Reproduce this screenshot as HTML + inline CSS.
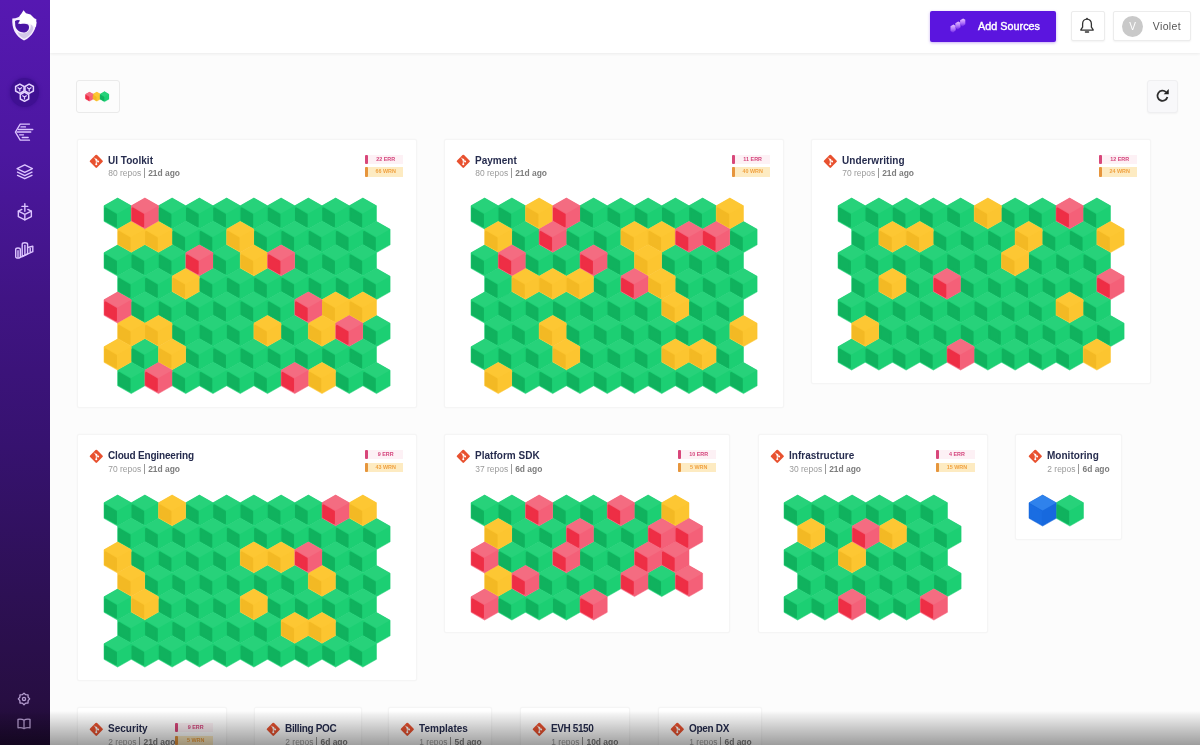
<!DOCTYPE html>
<html lang="en">
<head>
<meta charset="utf-8">
<title>Sources</title>
<style>
*{box-sizing:border-box;margin:0;padding:0}
html,body{width:1200px;height:745px;overflow:hidden;background:#fcfcfc;font-family:"Liberation Sans",sans-serif}
#app{position:relative;width:1200px;height:745px;overflow:hidden;background:#fcfcfc}
#side{position:absolute;left:0;top:0;width:50px;height:745px;background:linear-gradient(180deg,#5618b2 0%,#4c17a0 20%,#401484 40%,#36126f 60%,#2d1054 80%,#270e42 94%,#200b34 100%)}
#side svg{position:absolute;overflow:visible}
#side .act{position:absolute;left:10.300px;top:77.700px;width:29px;height:29px;border-radius:50%;background:#3f1092;box-shadow:0 0 3px 1px rgba(63,16,146,.6)}
#top{position:absolute;left:50px;top:0;width:1150px;height:53px;background:#fff;box-shadow:0 1px 3px rgba(0,0,0,.07)}
.btn{position:absolute;top:11px;height:30px;background:#fff;border:1px solid #ececec;border-radius:2px;box-shadow:0 1px 2px rgba(0,0,0,.05)}
#add{position:absolute;left:930px;top:10.5px;width:126px;height:31px;background:#5b15df;border-radius:2px;box-shadow:0 1px 3px rgba(91,21,223,.35);color:#fff;font-size:10.800px;line-height:31px;-webkit-text-stroke:.4px #fff}
#add span{position:absolute;left:48px;top:.2px;white-space:nowrap;letter-spacing:.02px}
#add svg{position:absolute;left:19px;top:6.500px}
#bell{left:1071px;width:34px}
#bell svg{position:absolute;left:7.400px;top:5.200px}
#user{left:1113px;width:78px}
#user .av{position:absolute;left:8.200px;top:3.500px;width:21px;height:21px;border-radius:50%;background:#c9c9c9;color:#fff;font-size:10px;line-height:21px;text-align:center}
#user .nm{position:absolute;left:38.800px;top:-.3px;line-height:28px;font-size:10.500px;color:#555;white-space:nowrap;letter-spacing:.35px}
.tb{position:absolute;top:80.5px;height:32px;border:1px solid #eaeaea;border-radius:3px;background:#fcfcfc}
#leg{left:75.800px;width:43.800px;top:80.400px;height:32.300px}
#leg svg{position:absolute;left:3.700px;top:8.500px}
#ref{left:1147px;width:31.300px;top:80.200px;height:32.500px;background:#f8f8fa;border-color:#efeff1;box-shadow:0 1px 2px rgba(0,0,0,.04)}
#ref svg{position:absolute;left:7.200px;top:6.600px}
.card{position:absolute;background:#fff;border:1px solid #f5f5f5;border-radius:2px;box-shadow:0 0 2px rgba(0,0,0,.03)}
.card .git{position:absolute;left:10.900px;top:13.600px}
.card .title{position:absolute;left:30px;top:13.500px;font-size:10px;line-height:13px;font-weight:bold;color:#262c4e;letter-spacing:.02px;white-space:nowrap}
.card .sub{position:absolute;left:30.300px;top:28.400px;font-size:8.450px;line-height:11px;color:#9b9b9b;white-space:nowrap}
.card .sub b{color:#7d7d7d;font-weight:bold}
.card .sub .bar{display:inline-block;width:1px;height:10px;background:#999;margin:0 3px 0 3px;vertical-align:-2px}
.bdg{position:absolute;right:12.600px;width:38.500px;height:9.600px;font-size:5.400px;line-height:9.600px;font-weight:bold;text-align:center;padding-left:3px;white-space:nowrap}
.bdg:before{content:"";position:absolute;left:0;top:0;width:2.800px;height:100%;border-radius:1px}
.bdg.err{top:14.600px;background:#fdf1f5;color:#d4457c}
.bdg.err:before{background:#d8477a}
.bdg.wrn{top:27.300px;background:#fdebc2;color:#f0a13f}
.bdg.wrn:before{background:#e6953c}
.grid{position:absolute;overflow:visible}
.card.m .git{margin-left:1px}.card.m .title,.card.m .sub{margin-left:1px}
#fade{position:absolute;left:0;top:711px;width:1200px;height:34px;background:linear-gradient(180deg,rgba(0,0,0,0) 0%,rgba(0,0,0,.05) 10%,rgba(0,0,0,.2) 50%,rgba(0,0,0,.375) 100%);pointer-events:none}
</style>
</head>
<body>
<div id="app">
<div id="top">
</div>
<div id="add"><svg width="20" height="18" viewBox="0 0 20 18"><defs><linearGradient id="sg" x1="0" y1="0" x2="0" y2="1"><stop offset="0" stop-color="#e9c3ff"/><stop offset=".55" stop-color="#b074fb"/><stop offset="1" stop-color="#6c22e6"/></linearGradient></defs><g fill="url(#sg)"><path d="M1.500 9.300l3-1.700 2.200 1.300v4.400l-2.700 2.500-2.500-1.800z"/><path d="M6.300 6.200l3-1.700 2.200 1.300v4.400l-2.700 2.300-2.500-1.800z"/><path d="M11.100 3.200l3-1.700 2.200 1.300v4.400l-2.700 2.300-2.500-1.800z"/></g></svg><span>Add Sources</span></div>
<div id="bell" class="btn"><svg width="16" height="18" viewBox="0 0 16 18"><path d="M8 2.200c-2.700 0-4.400 2-4.400 4.700v3.300l-1.700 2.400v.6h12.200v-.6l-1.700-2.400V6.900c0-2.700-1.700-4.700-4.400-4.700z" fill="none" stroke="#333" stroke-width="1.300" stroke-linejoin="round"/><path d="M6.400 15h3.200" stroke="#333" stroke-width="1.300" stroke-linecap="round"/><circle cx="8" cy="1.700" r=".9" fill="#333"/></svg></div>
<div id="user" class="btn"><div class="av">V</div><div class="nm">Violet</div></div>

<div id="leg" class="tb"><svg width="30" height="14" viewBox="0 0 30 14"><path d="M16.79 2l4.09 2.33v4.67l-4.09 2.33l-4.09 -2.33v-4.67z" fill="#fcc530" stroke="#fcc530" stroke-width="0.2"/><path d="M9.49 2l4.09 2.33v4.67l-4.09 2.33l-4.09 -2.33v-4.67z" fill="#f46078" stroke="#f46078" stroke-width="0.2"/><path d="M16.79 2l4.09 2.33l-4.09 2.33l-4.09 -2.33z" fill="#fdc733"/><path d="M13.07 5.13l3.2 1.83v3.49l-3.2 -1.83z" fill="#f3b924" stroke="#f3b924" stroke-width="0.6" stroke-linejoin="round"/><path d="M9.49 2l4.09 2.33l-4.09 2.33l-4.09 -2.33z" fill="#f46c81"/><path d="M5.78 5.13l3.2 1.83v3.49l-3.2 -1.83z" fill="#ee2e45" stroke="#ee2e45" stroke-width="0.6" stroke-linejoin="round"/><path d="M24.5 1.6l4.5 2.57v5.13l-4.5 2.57l-4.5 -2.57v-5.13z" fill="#1ccf73" stroke="#1ccf73" stroke-width="0.2"/><path d="M24.5 1.6l4.5 2.57l-4.5 2.57l-4.5 -2.57z" fill="#27d27a"/><path d="M20.41 5.05l3.52 2.01v3.84l-3.52 -2.01z" fill="#10b25e" stroke="#10b25e" stroke-width="0.66" stroke-linejoin="round"/></svg></div>
<div id="ref" class="tb"><svg width="15.400" height="15.400" viewBox="0 0 14 14"><path d="M11.300 8.200a4.600 4.600 0 1 1-1.300-4.500" fill="none" stroke="#2e2e2e" stroke-width="1.600"/><path d="M7.900 5.600h4.600v-4.600z" fill="#222"/></svg></div>

<div class="card" style="left:77px;top:139px;width:340px;height:268.6px"><svg class="git" viewBox="0 0 16 16" width="14.6" height="14.6"><rect x="2.6" y="2.6" width="10.8" height="10.8" rx="1.2" transform="rotate(45 8 8)" fill="#e8512f"/><path d="M6.1 4.4 L9.9 8.2 M8 6.3 V11.4" stroke="#fff" stroke-width="1" fill="none" stroke-linecap="round"/><circle cx="8" cy="6.2" r="1.1" fill="#fff"/><circle cx="10" cy="8.3" r="1.1" fill="#fff"/><circle cx="8" cy="11.3" r="1.1" fill="#fff"/></svg><div class="title">UI Toolkit</div><div class="sub"><span class="rp">80 repos</span><span class="bar"></span><b>21d ago</b></div><div class="bdg err"><span>22 ERR</span></div><div class="bdg wrn"><span>66 WRN</span></div><svg class="grid" style="left:24.5px;top:57.4px" width="288.12" height="197.6" viewBox="-1 -1 288.12 197.6"><path d="M13.62 0l13.62 7.78v15.55l-13.62 7.78l-13.62 -7.78v-15.55zM68.12 0l13.62 7.78v15.55l-13.62 7.78l-13.62 -7.78v-15.55zM95.38 0l13.62 7.78v15.55l-13.62 7.78l-13.62 -7.78v-15.55zM122.62 0l13.62 7.78v15.55l-13.62 7.78l-13.62 -7.78v-15.55zM149.88 0l13.62 7.78v15.55l-13.62 7.78l-13.62 -7.78v-15.55zM177.12 0l13.62 7.78v15.55l-13.62 7.78l-13.62 -7.78v-15.55zM204.38 0l13.62 7.78v15.55l-13.62 7.78l-13.62 -7.78v-15.55zM231.62 0l13.62 7.78v15.55l-13.62 7.78l-13.62 -7.78v-15.55zM258.88 0l13.62 7.78v15.55l-13.62 7.78l-13.62 -7.78v-15.55zM81.75 23.5l13.62 7.78v15.55l-13.62 7.78l-13.62 -7.78v-15.55zM109 23.5l13.62 7.78v15.55l-13.62 7.78l-13.62 -7.78v-15.55zM163.5 23.5l13.62 7.78v15.55l-13.62 7.78l-13.62 -7.78v-15.55zM190.75 23.5l13.62 7.78v15.55l-13.62 7.78l-13.62 -7.78v-15.55zM218 23.5l13.62 7.78v15.55l-13.62 7.78l-13.62 -7.78v-15.55zM245.25 23.5l13.62 7.78v15.55l-13.62 7.78l-13.62 -7.78v-15.55zM272.5 23.5l13.62 7.78v15.55l-13.62 7.78l-13.62 -7.78v-15.55zM13.62 47l13.62 7.78v15.55l-13.62 7.78l-13.62 -7.78v-15.55zM40.88 47l13.62 7.78v15.55l-13.62 7.78l-13.62 -7.78v-15.55zM68.12 47l13.62 7.78v15.55l-13.62 7.78l-13.62 -7.78v-15.55zM122.62 47l13.62 7.78v15.55l-13.62 7.78l-13.62 -7.78v-15.55zM204.38 47l13.62 7.78v15.55l-13.62 7.78l-13.62 -7.78v-15.55zM231.62 47l13.62 7.78v15.55l-13.62 7.78l-13.62 -7.78v-15.55zM258.88 47l13.62 7.78v15.55l-13.62 7.78l-13.62 -7.78v-15.55zM27.25 70.5l13.62 7.78v15.55l-13.62 7.78l-13.62 -7.78v-15.55zM54.5 70.5l13.62 7.78v15.55l-13.62 7.78l-13.62 -7.78v-15.55zM109 70.5l13.62 7.78v15.55l-13.62 7.78l-13.62 -7.78v-15.55zM136.25 70.5l13.62 7.78v15.55l-13.62 7.78l-13.62 -7.78v-15.55zM163.5 70.5l13.62 7.78v15.55l-13.62 7.78l-13.62 -7.78v-15.55zM190.75 70.5l13.62 7.78v15.55l-13.62 7.78l-13.62 -7.78v-15.55zM218 70.5l13.62 7.78v15.55l-13.62 7.78l-13.62 -7.78v-15.55zM245.25 70.5l13.62 7.78v15.55l-13.62 7.78l-13.62 -7.78v-15.55zM272.5 70.5l13.62 7.78v15.55l-13.62 7.78l-13.62 -7.78v-15.55zM40.88 94l13.62 7.78v15.55l-13.62 7.78l-13.62 -7.78v-15.55zM68.12 94l13.62 7.78v15.55l-13.62 7.78l-13.62 -7.78v-15.55zM95.38 94l13.62 7.78v15.55l-13.62 7.78l-13.62 -7.78v-15.55zM122.62 94l13.62 7.78v15.55l-13.62 7.78l-13.62 -7.78v-15.55zM149.88 94l13.62 7.78v15.55l-13.62 7.78l-13.62 -7.78v-15.55zM177.12 94l13.62 7.78v15.55l-13.62 7.78l-13.62 -7.78v-15.55zM81.75 117.5l13.62 7.78v15.55l-13.62 7.78l-13.62 -7.78v-15.55zM109 117.5l13.62 7.78v15.55l-13.62 7.78l-13.62 -7.78v-15.55zM136.25 117.5l13.62 7.78v15.55l-13.62 7.78l-13.62 -7.78v-15.55zM190.75 117.5l13.62 7.78v15.55l-13.62 7.78l-13.62 -7.78v-15.55zM272.5 117.5l13.62 7.78v15.55l-13.62 7.78l-13.62 -7.78v-15.55zM40.88 141l13.62 7.78v15.55l-13.62 7.78l-13.62 -7.78v-15.55zM95.38 141l13.62 7.78v15.55l-13.62 7.78l-13.62 -7.78v-15.55zM122.62 141l13.62 7.78v15.55l-13.62 7.78l-13.62 -7.78v-15.55zM149.88 141l13.62 7.78v15.55l-13.62 7.78l-13.62 -7.78v-15.55zM177.12 141l13.62 7.78v15.55l-13.62 7.78l-13.62 -7.78v-15.55zM204.38 141l13.62 7.78v15.55l-13.62 7.78l-13.62 -7.78v-15.55zM231.62 141l13.62 7.78v15.55l-13.62 7.78l-13.62 -7.78v-15.55zM258.88 141l13.62 7.78v15.55l-13.62 7.78l-13.62 -7.78v-15.55zM27.25 164.5l13.62 7.78v15.55l-13.62 7.78l-13.62 -7.78v-15.55zM81.75 164.5l13.62 7.78v15.55l-13.62 7.78l-13.62 -7.78v-15.55zM109 164.5l13.62 7.78v15.55l-13.62 7.78l-13.62 -7.78v-15.55zM136.25 164.5l13.62 7.78v15.55l-13.62 7.78l-13.62 -7.78v-15.55zM163.5 164.5l13.62 7.78v15.55l-13.62 7.78l-13.62 -7.78v-15.55zM245.25 164.5l13.62 7.78v15.55l-13.62 7.78l-13.62 -7.78v-15.55zM272.5 164.5l13.62 7.78v15.55l-13.62 7.78l-13.62 -7.78v-15.55z" fill="#1ccf73" stroke="#1ccf73" stroke-width="0.5"/><path d="M27.25 23.5l13.62 7.78v15.55l-13.62 7.78l-13.62 -7.78v-15.55zM54.5 23.5l13.62 7.78v15.55l-13.62 7.78l-13.62 -7.78v-15.55zM136.25 23.5l13.62 7.78v15.55l-13.62 7.78l-13.62 -7.78v-15.55zM149.88 47l13.62 7.78v15.55l-13.62 7.78l-13.62 -7.78v-15.55zM81.75 70.5l13.62 7.78v15.55l-13.62 7.78l-13.62 -7.78v-15.55zM231.62 94l13.62 7.78v15.55l-13.62 7.78l-13.62 -7.78v-15.55zM258.88 94l13.62 7.78v15.55l-13.62 7.78l-13.62 -7.78v-15.55zM27.25 117.5l13.62 7.78v15.55l-13.62 7.78l-13.62 -7.78v-15.55zM54.5 117.5l13.62 7.78v15.55l-13.62 7.78l-13.62 -7.78v-15.55zM163.5 117.5l13.62 7.78v15.55l-13.62 7.78l-13.62 -7.78v-15.55zM218 117.5l13.62 7.78v15.55l-13.62 7.78l-13.62 -7.78v-15.55zM13.62 141l13.62 7.78v15.55l-13.62 7.78l-13.62 -7.78v-15.55zM68.12 141l13.62 7.78v15.55l-13.62 7.78l-13.62 -7.78v-15.55zM218 164.5l13.62 7.78v15.55l-13.62 7.78l-13.62 -7.78v-15.55z" fill="#fcc530" stroke="#fcc530" stroke-width="0.5"/><path d="M40.88 0l13.62 7.78v15.55l-13.62 7.78l-13.62 -7.78v-15.55zM95.38 47l13.62 7.78v15.55l-13.62 7.78l-13.62 -7.78v-15.55zM177.12 47l13.62 7.78v15.55l-13.62 7.78l-13.62 -7.78v-15.55zM13.62 94l13.62 7.78v15.55l-13.62 7.78l-13.62 -7.78v-15.55zM204.38 94l13.62 7.78v15.55l-13.62 7.78l-13.62 -7.78v-15.55zM245.25 117.5l13.62 7.78v15.55l-13.62 7.78l-13.62 -7.78v-15.55zM54.5 164.5l13.62 7.78v15.55l-13.62 7.78l-13.62 -7.78v-15.55zM190.75 164.5l13.62 7.78v15.55l-13.62 7.78l-13.62 -7.78v-15.55z" fill="#f46078" stroke="#f46078" stroke-width="0.5"/><path d="M13.62 0l13.62 7.78l-13.62 7.78l-13.62 -7.78zM68.12 0l13.62 7.78l-13.62 7.78l-13.62 -7.78zM95.38 0l13.62 7.78l-13.62 7.78l-13.62 -7.78zM122.62 0l13.62 7.78l-13.62 7.78l-13.62 -7.78zM149.88 0l13.62 7.78l-13.62 7.78l-13.62 -7.78zM177.12 0l13.62 7.78l-13.62 7.78l-13.62 -7.78zM204.38 0l13.62 7.78l-13.62 7.78l-13.62 -7.78zM231.62 0l13.62 7.78l-13.62 7.78l-13.62 -7.78zM258.88 0l13.62 7.78l-13.62 7.78l-13.62 -7.78zM81.75 23.5l13.62 7.78l-13.62 7.78l-13.62 -7.78zM109 23.5l13.62 7.78l-13.62 7.78l-13.62 -7.78zM163.5 23.5l13.62 7.78l-13.62 7.78l-13.62 -7.78zM190.75 23.5l13.62 7.78l-13.62 7.78l-13.62 -7.78zM218 23.5l13.62 7.78l-13.62 7.78l-13.62 -7.78zM245.25 23.5l13.62 7.78l-13.62 7.78l-13.62 -7.78zM272.5 23.5l13.62 7.78l-13.62 7.78l-13.62 -7.78zM13.62 47l13.62 7.78l-13.62 7.78l-13.62 -7.78zM40.88 47l13.62 7.78l-13.62 7.78l-13.62 -7.78zM68.12 47l13.62 7.78l-13.62 7.78l-13.62 -7.78zM122.62 47l13.62 7.78l-13.62 7.78l-13.62 -7.78zM204.38 47l13.62 7.78l-13.62 7.78l-13.62 -7.78zM231.62 47l13.62 7.78l-13.62 7.78l-13.62 -7.78zM258.88 47l13.62 7.78l-13.62 7.78l-13.62 -7.78zM27.25 70.5l13.62 7.78l-13.62 7.78l-13.62 -7.78zM54.5 70.5l13.62 7.78l-13.62 7.78l-13.62 -7.78zM109 70.5l13.62 7.78l-13.62 7.78l-13.62 -7.78zM136.25 70.5l13.62 7.78l-13.62 7.78l-13.62 -7.78zM163.5 70.5l13.62 7.78l-13.62 7.78l-13.62 -7.78zM190.75 70.5l13.62 7.78l-13.62 7.78l-13.62 -7.78zM218 70.5l13.62 7.78l-13.62 7.78l-13.62 -7.78zM245.25 70.5l13.62 7.78l-13.62 7.78l-13.62 -7.78zM272.5 70.5l13.62 7.78l-13.62 7.78l-13.62 -7.78zM40.88 94l13.62 7.78l-13.62 7.78l-13.62 -7.78zM68.12 94l13.62 7.78l-13.62 7.78l-13.62 -7.78zM95.38 94l13.62 7.78l-13.62 7.78l-13.62 -7.78zM122.62 94l13.62 7.78l-13.62 7.78l-13.62 -7.78zM149.88 94l13.62 7.78l-13.62 7.78l-13.62 -7.78zM177.12 94l13.62 7.78l-13.62 7.78l-13.62 -7.78zM81.75 117.5l13.62 7.78l-13.62 7.78l-13.62 -7.78zM109 117.5l13.62 7.78l-13.62 7.78l-13.62 -7.78zM136.25 117.5l13.62 7.78l-13.62 7.78l-13.62 -7.78zM190.75 117.5l13.62 7.78l-13.62 7.78l-13.62 -7.78zM272.5 117.5l13.62 7.78l-13.62 7.78l-13.62 -7.78zM40.88 141l13.62 7.78l-13.62 7.78l-13.62 -7.78zM95.38 141l13.62 7.78l-13.62 7.78l-13.62 -7.78zM122.62 141l13.62 7.78l-13.62 7.78l-13.62 -7.78zM149.88 141l13.62 7.78l-13.62 7.78l-13.62 -7.78zM177.12 141l13.62 7.78l-13.62 7.78l-13.62 -7.78zM204.38 141l13.62 7.78l-13.62 7.78l-13.62 -7.78zM231.62 141l13.62 7.78l-13.62 7.78l-13.62 -7.78zM258.88 141l13.62 7.78l-13.62 7.78l-13.62 -7.78zM27.25 164.5l13.62 7.78l-13.62 7.78l-13.62 -7.78zM81.75 164.5l13.62 7.78l-13.62 7.78l-13.62 -7.78zM109 164.5l13.62 7.78l-13.62 7.78l-13.62 -7.78zM136.25 164.5l13.62 7.78l-13.62 7.78l-13.62 -7.78zM163.5 164.5l13.62 7.78l-13.62 7.78l-13.62 -7.78zM245.25 164.5l13.62 7.78l-13.62 7.78l-13.62 -7.78zM272.5 164.5l13.62 7.78l-13.62 7.78l-13.62 -7.78z" fill="#27d27a"/><path d="M1.25 10.45l10.68 6.09v11.64l-10.68 -6.09zM55.75 10.45l10.68 6.09v11.64l-10.68 -6.09zM83 10.45l10.68 6.09v11.64l-10.68 -6.09zM110.25 10.45l10.68 6.09v11.64l-10.68 -6.09zM137.5 10.45l10.68 6.09v11.64l-10.68 -6.09zM164.75 10.45l10.68 6.09v11.64l-10.68 -6.09zM192 10.45l10.68 6.09v11.64l-10.68 -6.09zM219.25 10.45l10.68 6.09v11.64l-10.68 -6.09zM246.5 10.45l10.68 6.09v11.64l-10.68 -6.09zM69.38 33.95l10.68 6.09v11.64l-10.68 -6.09zM96.62 33.95l10.68 6.09v11.64l-10.68 -6.09zM151.12 33.95l10.68 6.09v11.64l-10.68 -6.09zM178.38 33.95l10.68 6.09v11.64l-10.68 -6.09zM205.62 33.95l10.68 6.09v11.64l-10.68 -6.09zM232.88 33.95l10.68 6.09v11.64l-10.68 -6.09zM260.12 33.95l10.68 6.09v11.64l-10.68 -6.09zM1.25 57.45l10.68 6.09v11.64l-10.68 -6.09zM28.5 57.45l10.68 6.09v11.64l-10.68 -6.09zM55.75 57.45l10.68 6.09v11.64l-10.68 -6.09zM110.25 57.45l10.68 6.09v11.64l-10.68 -6.09zM192 57.45l10.68 6.09v11.64l-10.68 -6.09zM219.25 57.45l10.68 6.09v11.64l-10.68 -6.09zM246.5 57.45l10.68 6.09v11.64l-10.68 -6.09zM14.88 80.95l10.68 6.09v11.64l-10.68 -6.09zM42.12 80.95l10.68 6.09v11.64l-10.68 -6.09zM96.62 80.95l10.68 6.09v11.64l-10.68 -6.09zM123.88 80.95l10.68 6.09v11.64l-10.68 -6.09zM151.12 80.95l10.68 6.09v11.64l-10.68 -6.09zM178.38 80.95l10.68 6.09v11.64l-10.68 -6.09zM205.62 80.95l10.68 6.09v11.64l-10.68 -6.09zM232.88 80.95l10.68 6.09v11.64l-10.68 -6.09zM260.12 80.95l10.68 6.09v11.64l-10.68 -6.09zM28.5 104.45l10.68 6.09v11.64l-10.68 -6.09zM55.75 104.45l10.68 6.09v11.64l-10.68 -6.09zM83 104.45l10.68 6.09v11.64l-10.68 -6.09zM110.25 104.45l10.68 6.09v11.64l-10.68 -6.09zM137.5 104.45l10.68 6.09v11.64l-10.68 -6.09zM164.75 104.45l10.68 6.09v11.64l-10.68 -6.09zM69.38 127.95l10.68 6.09v11.64l-10.68 -6.09zM96.62 127.95l10.68 6.09v11.64l-10.68 -6.09zM123.88 127.95l10.68 6.09v11.64l-10.68 -6.09zM178.38 127.95l10.68 6.09v11.64l-10.68 -6.09zM260.12 127.95l10.68 6.09v11.64l-10.68 -6.09zM28.5 151.45l10.68 6.09v11.64l-10.68 -6.09zM83 151.45l10.68 6.09v11.64l-10.68 -6.09zM110.25 151.45l10.68 6.09v11.64l-10.68 -6.09zM137.5 151.45l10.68 6.09v11.64l-10.68 -6.09zM164.75 151.45l10.68 6.09v11.64l-10.68 -6.09zM192 151.45l10.68 6.09v11.64l-10.68 -6.09zM219.25 151.45l10.68 6.09v11.64l-10.68 -6.09zM246.5 151.45l10.68 6.09v11.64l-10.68 -6.09zM14.88 174.95l10.68 6.09v11.64l-10.68 -6.09zM69.38 174.95l10.68 6.09v11.64l-10.68 -6.09zM96.62 174.95l10.68 6.09v11.64l-10.68 -6.09zM123.88 174.95l10.68 6.09v11.64l-10.68 -6.09zM151.12 174.95l10.68 6.09v11.64l-10.68 -6.09zM232.88 174.95l10.68 6.09v11.64l-10.68 -6.09zM260.12 174.95l10.68 6.09v11.64l-10.68 -6.09z" fill="#10b25e" stroke="#10b25e" stroke-width="2" stroke-linejoin="round"/><path d="M27.25 23.5l13.62 7.78l-13.62 7.78l-13.62 -7.78zM54.5 23.5l13.62 7.78l-13.62 7.78l-13.62 -7.78zM136.25 23.5l13.62 7.78l-13.62 7.78l-13.62 -7.78zM149.88 47l13.62 7.78l-13.62 7.78l-13.62 -7.78zM81.75 70.5l13.62 7.78l-13.62 7.78l-13.62 -7.78zM231.62 94l13.62 7.78l-13.62 7.78l-13.62 -7.78zM258.88 94l13.62 7.78l-13.62 7.78l-13.62 -7.78zM27.25 117.5l13.62 7.78l-13.62 7.78l-13.62 -7.78zM54.5 117.5l13.62 7.78l-13.62 7.78l-13.62 -7.78zM163.5 117.5l13.62 7.78l-13.62 7.78l-13.62 -7.78zM218 117.5l13.62 7.78l-13.62 7.78l-13.62 -7.78zM13.62 141l13.62 7.78l-13.62 7.78l-13.62 -7.78zM68.12 141l13.62 7.78l-13.62 7.78l-13.62 -7.78zM218 164.5l13.62 7.78l-13.62 7.78l-13.62 -7.78z" fill="#fdc733"/><path d="M14.88 33.95l10.68 6.09v11.64l-10.68 -6.09zM42.12 33.95l10.68 6.09v11.64l-10.68 -6.09zM123.88 33.95l10.68 6.09v11.64l-10.68 -6.09zM137.5 57.45l10.68 6.09v11.64l-10.68 -6.09zM69.38 80.95l10.68 6.09v11.64l-10.68 -6.09zM219.25 104.45l10.68 6.09v11.64l-10.68 -6.09zM246.5 104.45l10.68 6.09v11.64l-10.68 -6.09zM14.88 127.95l10.68 6.09v11.64l-10.68 -6.09zM42.12 127.95l10.68 6.09v11.64l-10.68 -6.09zM151.12 127.95l10.68 6.09v11.64l-10.68 -6.09zM205.62 127.95l10.68 6.09v11.64l-10.68 -6.09zM1.25 151.45l10.68 6.09v11.64l-10.68 -6.09zM55.75 151.45l10.68 6.09v11.64l-10.68 -6.09zM205.62 174.95l10.68 6.09v11.64l-10.68 -6.09z" fill="#f3b924" stroke="#f3b924" stroke-width="2" stroke-linejoin="round"/><path d="M40.88 0l13.62 7.78l-13.62 7.78l-13.62 -7.78zM95.38 47l13.62 7.78l-13.62 7.78l-13.62 -7.78zM177.12 47l13.62 7.78l-13.62 7.78l-13.62 -7.78zM13.62 94l13.62 7.78l-13.62 7.78l-13.62 -7.78zM204.38 94l13.62 7.78l-13.62 7.78l-13.62 -7.78zM245.25 117.5l13.62 7.78l-13.62 7.78l-13.62 -7.78zM54.5 164.5l13.62 7.78l-13.62 7.78l-13.62 -7.78zM190.75 164.5l13.62 7.78l-13.62 7.78l-13.62 -7.78z" fill="#f46c81"/><path d="M28.5 10.45l10.68 6.09v11.64l-10.68 -6.09zM83 57.45l10.68 6.09v11.64l-10.68 -6.09zM164.75 57.45l10.68 6.09v11.64l-10.68 -6.09zM1.25 104.45l10.68 6.09v11.64l-10.68 -6.09zM192 104.45l10.68 6.09v11.64l-10.68 -6.09zM232.88 127.95l10.68 6.09v11.64l-10.68 -6.09zM42.12 174.95l10.68 6.09v11.64l-10.68 -6.09zM178.38 174.95l10.68 6.09v11.64l-10.68 -6.09z" fill="#ee2e45" stroke="#ee2e45" stroke-width="2" stroke-linejoin="round"/></svg></div>
<div class="card" style="left:444px;top:139px;width:340px;height:268.6px"><svg class="git" viewBox="0 0 16 16" width="14.6" height="14.6"><rect x="2.6" y="2.6" width="10.8" height="10.8" rx="1.2" transform="rotate(45 8 8)" fill="#e8512f"/><path d="M6.1 4.4 L9.9 8.2 M8 6.3 V11.4" stroke="#fff" stroke-width="1" fill="none" stroke-linecap="round"/><circle cx="8" cy="6.2" r="1.1" fill="#fff"/><circle cx="10" cy="8.3" r="1.1" fill="#fff"/><circle cx="8" cy="11.3" r="1.1" fill="#fff"/></svg><div class="title">Payment</div><div class="sub"><span class="rp">80 repos</span><span class="bar"></span><b>21d ago</b></div><div class="bdg err"><span>11 ERR</span></div><div class="bdg wrn"><span>40 WRN</span></div><svg class="grid" style="left:24.5px;top:57.4px" width="288.12" height="197.6" viewBox="-1 -1 288.12 197.6"><path d="M13.62 0l13.62 7.78v15.55l-13.62 7.78l-13.62 -7.78v-15.55zM40.88 0l13.62 7.78v15.55l-13.62 7.78l-13.62 -7.78v-15.55zM122.62 0l13.62 7.78v15.55l-13.62 7.78l-13.62 -7.78v-15.55zM149.88 0l13.62 7.78v15.55l-13.62 7.78l-13.62 -7.78v-15.55zM177.12 0l13.62 7.78v15.55l-13.62 7.78l-13.62 -7.78v-15.55zM204.38 0l13.62 7.78v15.55l-13.62 7.78l-13.62 -7.78v-15.55zM231.62 0l13.62 7.78v15.55l-13.62 7.78l-13.62 -7.78v-15.55zM54.5 23.5l13.62 7.78v15.55l-13.62 7.78l-13.62 -7.78v-15.55zM109 23.5l13.62 7.78v15.55l-13.62 7.78l-13.62 -7.78v-15.55zM136.25 23.5l13.62 7.78v15.55l-13.62 7.78l-13.62 -7.78v-15.55zM272.5 23.5l13.62 7.78v15.55l-13.62 7.78l-13.62 -7.78v-15.55zM13.62 47l13.62 7.78v15.55l-13.62 7.78l-13.62 -7.78v-15.55zM68.12 47l13.62 7.78v15.55l-13.62 7.78l-13.62 -7.78v-15.55zM95.38 47l13.62 7.78v15.55l-13.62 7.78l-13.62 -7.78v-15.55zM149.88 47l13.62 7.78v15.55l-13.62 7.78l-13.62 -7.78v-15.55zM204.38 47l13.62 7.78v15.55l-13.62 7.78l-13.62 -7.78v-15.55zM231.62 47l13.62 7.78v15.55l-13.62 7.78l-13.62 -7.78v-15.55zM258.88 47l13.62 7.78v15.55l-13.62 7.78l-13.62 -7.78v-15.55zM27.25 70.5l13.62 7.78v15.55l-13.62 7.78l-13.62 -7.78v-15.55zM136.25 70.5l13.62 7.78v15.55l-13.62 7.78l-13.62 -7.78v-15.55zM218 70.5l13.62 7.78v15.55l-13.62 7.78l-13.62 -7.78v-15.55zM245.25 70.5l13.62 7.78v15.55l-13.62 7.78l-13.62 -7.78v-15.55zM272.5 70.5l13.62 7.78v15.55l-13.62 7.78l-13.62 -7.78v-15.55zM13.62 94l13.62 7.78v15.55l-13.62 7.78l-13.62 -7.78v-15.55zM40.88 94l13.62 7.78v15.55l-13.62 7.78l-13.62 -7.78v-15.55zM68.12 94l13.62 7.78v15.55l-13.62 7.78l-13.62 -7.78v-15.55zM95.38 94l13.62 7.78v15.55l-13.62 7.78l-13.62 -7.78v-15.55zM122.62 94l13.62 7.78v15.55l-13.62 7.78l-13.62 -7.78v-15.55zM149.88 94l13.62 7.78v15.55l-13.62 7.78l-13.62 -7.78v-15.55zM177.12 94l13.62 7.78v15.55l-13.62 7.78l-13.62 -7.78v-15.55zM231.62 94l13.62 7.78v15.55l-13.62 7.78l-13.62 -7.78v-15.55zM258.88 94l13.62 7.78v15.55l-13.62 7.78l-13.62 -7.78v-15.55zM27.25 117.5l13.62 7.78v15.55l-13.62 7.78l-13.62 -7.78v-15.55zM54.5 117.5l13.62 7.78v15.55l-13.62 7.78l-13.62 -7.78v-15.55zM109 117.5l13.62 7.78v15.55l-13.62 7.78l-13.62 -7.78v-15.55zM136.25 117.5l13.62 7.78v15.55l-13.62 7.78l-13.62 -7.78v-15.55zM163.5 117.5l13.62 7.78v15.55l-13.62 7.78l-13.62 -7.78v-15.55zM190.75 117.5l13.62 7.78v15.55l-13.62 7.78l-13.62 -7.78v-15.55zM218 117.5l13.62 7.78v15.55l-13.62 7.78l-13.62 -7.78v-15.55zM245.25 117.5l13.62 7.78v15.55l-13.62 7.78l-13.62 -7.78v-15.55zM13.62 141l13.62 7.78v15.55l-13.62 7.78l-13.62 -7.78v-15.55zM40.88 141l13.62 7.78v15.55l-13.62 7.78l-13.62 -7.78v-15.55zM68.12 141l13.62 7.78v15.55l-13.62 7.78l-13.62 -7.78v-15.55zM122.62 141l13.62 7.78v15.55l-13.62 7.78l-13.62 -7.78v-15.55zM149.88 141l13.62 7.78v15.55l-13.62 7.78l-13.62 -7.78v-15.55zM177.12 141l13.62 7.78v15.55l-13.62 7.78l-13.62 -7.78v-15.55zM258.88 141l13.62 7.78v15.55l-13.62 7.78l-13.62 -7.78v-15.55zM54.5 164.5l13.62 7.78v15.55l-13.62 7.78l-13.62 -7.78v-15.55zM81.75 164.5l13.62 7.78v15.55l-13.62 7.78l-13.62 -7.78v-15.55zM109 164.5l13.62 7.78v15.55l-13.62 7.78l-13.62 -7.78v-15.55zM136.25 164.5l13.62 7.78v15.55l-13.62 7.78l-13.62 -7.78v-15.55zM163.5 164.5l13.62 7.78v15.55l-13.62 7.78l-13.62 -7.78v-15.55zM190.75 164.5l13.62 7.78v15.55l-13.62 7.78l-13.62 -7.78v-15.55zM218 164.5l13.62 7.78v15.55l-13.62 7.78l-13.62 -7.78v-15.55zM245.25 164.5l13.62 7.78v15.55l-13.62 7.78l-13.62 -7.78v-15.55zM272.5 164.5l13.62 7.78v15.55l-13.62 7.78l-13.62 -7.78v-15.55z" fill="#1ccf73" stroke="#1ccf73" stroke-width="0.5"/><path d="M68.12 0l13.62 7.78v15.55l-13.62 7.78l-13.62 -7.78v-15.55zM258.88 0l13.62 7.78v15.55l-13.62 7.78l-13.62 -7.78v-15.55zM27.25 23.5l13.62 7.78v15.55l-13.62 7.78l-13.62 -7.78v-15.55zM163.5 23.5l13.62 7.78v15.55l-13.62 7.78l-13.62 -7.78v-15.55zM190.75 23.5l13.62 7.78v15.55l-13.62 7.78l-13.62 -7.78v-15.55zM177.12 47l13.62 7.78v15.55l-13.62 7.78l-13.62 -7.78v-15.55zM54.5 70.5l13.62 7.78v15.55l-13.62 7.78l-13.62 -7.78v-15.55zM81.75 70.5l13.62 7.78v15.55l-13.62 7.78l-13.62 -7.78v-15.55zM109 70.5l13.62 7.78v15.55l-13.62 7.78l-13.62 -7.78v-15.55zM190.75 70.5l13.62 7.78v15.55l-13.62 7.78l-13.62 -7.78v-15.55zM204.38 94l13.62 7.78v15.55l-13.62 7.78l-13.62 -7.78v-15.55zM81.75 117.5l13.62 7.78v15.55l-13.62 7.78l-13.62 -7.78v-15.55zM272.5 117.5l13.62 7.78v15.55l-13.62 7.78l-13.62 -7.78v-15.55zM95.38 141l13.62 7.78v15.55l-13.62 7.78l-13.62 -7.78v-15.55zM204.38 141l13.62 7.78v15.55l-13.62 7.78l-13.62 -7.78v-15.55zM231.62 141l13.62 7.78v15.55l-13.62 7.78l-13.62 -7.78v-15.55zM27.25 164.5l13.62 7.78v15.55l-13.62 7.78l-13.62 -7.78v-15.55z" fill="#fcc530" stroke="#fcc530" stroke-width="0.5"/><path d="M95.38 0l13.62 7.78v15.55l-13.62 7.78l-13.62 -7.78v-15.55zM81.75 23.5l13.62 7.78v15.55l-13.62 7.78l-13.62 -7.78v-15.55zM218 23.5l13.62 7.78v15.55l-13.62 7.78l-13.62 -7.78v-15.55zM245.25 23.5l13.62 7.78v15.55l-13.62 7.78l-13.62 -7.78v-15.55zM40.88 47l13.62 7.78v15.55l-13.62 7.78l-13.62 -7.78v-15.55zM122.62 47l13.62 7.78v15.55l-13.62 7.78l-13.62 -7.78v-15.55zM163.5 70.5l13.62 7.78v15.55l-13.62 7.78l-13.62 -7.78v-15.55z" fill="#f46078" stroke="#f46078" stroke-width="0.5"/><path d="M13.62 0l13.62 7.78l-13.62 7.78l-13.62 -7.78zM40.88 0l13.62 7.78l-13.62 7.78l-13.62 -7.78zM122.62 0l13.62 7.78l-13.62 7.78l-13.62 -7.78zM149.88 0l13.62 7.78l-13.62 7.78l-13.62 -7.78zM177.12 0l13.62 7.78l-13.62 7.78l-13.62 -7.78zM204.38 0l13.62 7.78l-13.62 7.78l-13.62 -7.78zM231.62 0l13.62 7.78l-13.62 7.78l-13.62 -7.78zM54.5 23.5l13.62 7.78l-13.62 7.78l-13.62 -7.78zM109 23.5l13.62 7.78l-13.62 7.78l-13.62 -7.78zM136.25 23.5l13.62 7.78l-13.62 7.78l-13.62 -7.78zM272.5 23.5l13.62 7.78l-13.62 7.78l-13.62 -7.78zM13.62 47l13.62 7.78l-13.62 7.78l-13.62 -7.78zM68.12 47l13.62 7.78l-13.62 7.78l-13.62 -7.78zM95.38 47l13.62 7.78l-13.62 7.78l-13.62 -7.78zM149.88 47l13.62 7.78l-13.62 7.78l-13.62 -7.78zM204.38 47l13.62 7.78l-13.62 7.78l-13.62 -7.78zM231.62 47l13.62 7.78l-13.62 7.78l-13.62 -7.78zM258.88 47l13.62 7.78l-13.62 7.78l-13.62 -7.78zM27.25 70.5l13.62 7.78l-13.62 7.78l-13.62 -7.78zM136.25 70.5l13.62 7.78l-13.62 7.78l-13.62 -7.78zM218 70.5l13.62 7.78l-13.62 7.78l-13.62 -7.78zM245.25 70.5l13.62 7.78l-13.62 7.78l-13.62 -7.78zM272.5 70.5l13.62 7.78l-13.62 7.78l-13.62 -7.78zM13.62 94l13.62 7.78l-13.62 7.78l-13.62 -7.78zM40.88 94l13.62 7.78l-13.62 7.78l-13.62 -7.78zM68.12 94l13.62 7.78l-13.62 7.78l-13.62 -7.78zM95.38 94l13.62 7.78l-13.62 7.78l-13.62 -7.78zM122.62 94l13.62 7.78l-13.62 7.78l-13.62 -7.78zM149.88 94l13.62 7.78l-13.62 7.78l-13.62 -7.78zM177.12 94l13.62 7.78l-13.62 7.78l-13.62 -7.78zM231.62 94l13.62 7.78l-13.62 7.78l-13.62 -7.78zM258.88 94l13.62 7.78l-13.62 7.78l-13.62 -7.78zM27.25 117.5l13.62 7.78l-13.62 7.78l-13.62 -7.78zM54.5 117.5l13.62 7.78l-13.62 7.78l-13.62 -7.78zM109 117.5l13.62 7.78l-13.62 7.78l-13.62 -7.78zM136.25 117.5l13.62 7.78l-13.62 7.78l-13.62 -7.78zM163.5 117.5l13.62 7.78l-13.62 7.78l-13.62 -7.78zM190.75 117.5l13.62 7.78l-13.62 7.78l-13.62 -7.78zM218 117.5l13.62 7.78l-13.62 7.78l-13.62 -7.78zM245.25 117.5l13.62 7.78l-13.62 7.78l-13.62 -7.78zM13.62 141l13.62 7.78l-13.62 7.78l-13.62 -7.78zM40.88 141l13.62 7.78l-13.62 7.78l-13.62 -7.78zM68.12 141l13.62 7.78l-13.62 7.78l-13.62 -7.78zM122.62 141l13.62 7.78l-13.62 7.78l-13.62 -7.78zM149.88 141l13.62 7.78l-13.62 7.78l-13.62 -7.78zM177.12 141l13.62 7.78l-13.62 7.78l-13.62 -7.78zM258.88 141l13.62 7.78l-13.62 7.78l-13.62 -7.78zM54.5 164.5l13.62 7.78l-13.62 7.78l-13.62 -7.78zM81.75 164.5l13.62 7.78l-13.62 7.78l-13.62 -7.78zM109 164.5l13.62 7.78l-13.62 7.78l-13.62 -7.78zM136.25 164.5l13.62 7.78l-13.62 7.78l-13.62 -7.78zM163.5 164.5l13.62 7.78l-13.62 7.78l-13.62 -7.78zM190.75 164.5l13.62 7.78l-13.62 7.78l-13.62 -7.78zM218 164.5l13.62 7.78l-13.62 7.78l-13.62 -7.78zM245.25 164.5l13.62 7.78l-13.62 7.78l-13.62 -7.78zM272.5 164.5l13.62 7.78l-13.62 7.78l-13.62 -7.78z" fill="#27d27a"/><path d="M1.25 10.45l10.68 6.09v11.64l-10.68 -6.09zM28.5 10.45l10.68 6.09v11.64l-10.68 -6.09zM110.25 10.45l10.68 6.09v11.64l-10.68 -6.09zM137.5 10.45l10.68 6.09v11.64l-10.68 -6.09zM164.75 10.45l10.68 6.09v11.64l-10.68 -6.09zM192 10.45l10.68 6.09v11.64l-10.68 -6.09zM219.25 10.45l10.68 6.09v11.64l-10.68 -6.09zM42.12 33.95l10.68 6.09v11.64l-10.68 -6.09zM96.62 33.95l10.68 6.09v11.64l-10.68 -6.09zM123.88 33.95l10.68 6.09v11.64l-10.68 -6.09zM260.12 33.95l10.68 6.09v11.64l-10.68 -6.09zM1.25 57.45l10.68 6.09v11.64l-10.68 -6.09zM55.75 57.45l10.68 6.09v11.64l-10.68 -6.09zM83 57.45l10.68 6.09v11.64l-10.68 -6.09zM137.5 57.45l10.68 6.09v11.64l-10.68 -6.09zM192 57.45l10.68 6.09v11.64l-10.68 -6.09zM219.25 57.45l10.68 6.09v11.64l-10.68 -6.09zM246.5 57.45l10.68 6.09v11.64l-10.68 -6.09zM14.88 80.95l10.68 6.09v11.64l-10.68 -6.09zM123.88 80.95l10.68 6.09v11.64l-10.68 -6.09zM205.62 80.95l10.68 6.09v11.64l-10.68 -6.09zM232.88 80.95l10.68 6.09v11.64l-10.68 -6.09zM260.12 80.95l10.68 6.09v11.64l-10.68 -6.09zM1.25 104.45l10.68 6.09v11.64l-10.68 -6.09zM28.5 104.45l10.68 6.09v11.64l-10.68 -6.09zM55.75 104.45l10.68 6.09v11.64l-10.68 -6.09zM83 104.45l10.68 6.09v11.64l-10.68 -6.09zM110.25 104.45l10.68 6.09v11.64l-10.68 -6.09zM137.5 104.45l10.68 6.09v11.64l-10.68 -6.09zM164.75 104.45l10.68 6.09v11.64l-10.68 -6.09zM219.25 104.45l10.68 6.09v11.64l-10.68 -6.09zM246.5 104.45l10.68 6.09v11.64l-10.68 -6.09zM14.88 127.95l10.68 6.09v11.64l-10.68 -6.09zM42.12 127.95l10.68 6.09v11.64l-10.68 -6.09zM96.62 127.95l10.68 6.09v11.64l-10.68 -6.09zM123.88 127.95l10.68 6.09v11.64l-10.68 -6.09zM151.12 127.95l10.68 6.09v11.64l-10.68 -6.09zM178.38 127.95l10.68 6.09v11.64l-10.68 -6.09zM205.62 127.95l10.68 6.09v11.64l-10.68 -6.09zM232.88 127.95l10.68 6.09v11.64l-10.68 -6.09zM1.25 151.45l10.68 6.09v11.64l-10.68 -6.09zM28.5 151.45l10.68 6.09v11.64l-10.68 -6.09zM55.75 151.45l10.68 6.09v11.64l-10.68 -6.09zM110.25 151.45l10.68 6.09v11.64l-10.68 -6.09zM137.5 151.45l10.68 6.09v11.64l-10.68 -6.09zM164.75 151.45l10.68 6.09v11.64l-10.68 -6.09zM246.5 151.45l10.68 6.09v11.64l-10.68 -6.09zM42.12 174.95l10.68 6.09v11.64l-10.68 -6.09zM69.38 174.95l10.68 6.09v11.64l-10.68 -6.09zM96.62 174.95l10.68 6.09v11.64l-10.68 -6.09zM123.88 174.95l10.68 6.09v11.64l-10.68 -6.09zM151.12 174.95l10.68 6.09v11.64l-10.68 -6.09zM178.38 174.95l10.68 6.09v11.64l-10.68 -6.09zM205.62 174.95l10.68 6.09v11.64l-10.68 -6.09zM232.88 174.95l10.68 6.09v11.64l-10.68 -6.09zM260.12 174.95l10.68 6.09v11.64l-10.68 -6.09z" fill="#10b25e" stroke="#10b25e" stroke-width="2" stroke-linejoin="round"/><path d="M68.12 0l13.62 7.78l-13.62 7.78l-13.62 -7.78zM258.88 0l13.62 7.78l-13.62 7.78l-13.62 -7.78zM27.25 23.5l13.62 7.78l-13.62 7.78l-13.62 -7.78zM163.5 23.5l13.62 7.78l-13.62 7.78l-13.62 -7.78zM190.75 23.5l13.62 7.78l-13.62 7.78l-13.62 -7.78zM177.12 47l13.62 7.78l-13.62 7.78l-13.62 -7.78zM54.5 70.5l13.62 7.78l-13.62 7.78l-13.62 -7.78zM81.75 70.5l13.62 7.78l-13.62 7.78l-13.62 -7.78zM109 70.5l13.62 7.78l-13.62 7.78l-13.62 -7.78zM190.75 70.5l13.62 7.78l-13.62 7.78l-13.62 -7.78zM204.38 94l13.62 7.78l-13.62 7.78l-13.62 -7.78zM81.75 117.5l13.62 7.78l-13.62 7.78l-13.62 -7.78zM272.5 117.5l13.62 7.78l-13.62 7.78l-13.62 -7.78zM95.38 141l13.62 7.78l-13.62 7.78l-13.62 -7.78zM204.38 141l13.62 7.78l-13.62 7.78l-13.62 -7.78zM231.62 141l13.62 7.78l-13.62 7.78l-13.62 -7.78zM27.25 164.5l13.62 7.78l-13.62 7.78l-13.62 -7.78z" fill="#fdc733"/><path d="M55.75 10.45l10.68 6.09v11.64l-10.68 -6.09zM246.5 10.45l10.68 6.09v11.64l-10.68 -6.09zM14.88 33.95l10.68 6.09v11.64l-10.68 -6.09zM151.12 33.95l10.68 6.09v11.64l-10.68 -6.09zM178.38 33.95l10.68 6.09v11.64l-10.68 -6.09zM164.75 57.45l10.68 6.09v11.64l-10.68 -6.09zM42.12 80.95l10.68 6.09v11.64l-10.68 -6.09zM69.38 80.95l10.68 6.09v11.64l-10.68 -6.09zM96.62 80.95l10.68 6.09v11.64l-10.68 -6.09zM178.38 80.95l10.68 6.09v11.64l-10.68 -6.09zM192 104.45l10.68 6.09v11.64l-10.68 -6.09zM69.38 127.95l10.68 6.09v11.64l-10.68 -6.09zM260.12 127.95l10.68 6.09v11.64l-10.68 -6.09zM83 151.45l10.68 6.09v11.64l-10.68 -6.09zM192 151.45l10.68 6.09v11.64l-10.68 -6.09zM219.25 151.45l10.68 6.09v11.64l-10.68 -6.09zM14.88 174.95l10.68 6.09v11.64l-10.68 -6.09z" fill="#f3b924" stroke="#f3b924" stroke-width="2" stroke-linejoin="round"/><path d="M95.38 0l13.62 7.78l-13.62 7.78l-13.62 -7.78zM81.75 23.5l13.62 7.78l-13.62 7.78l-13.62 -7.78zM218 23.5l13.62 7.78l-13.62 7.78l-13.62 -7.78zM245.25 23.5l13.62 7.78l-13.62 7.78l-13.62 -7.78zM40.88 47l13.62 7.78l-13.62 7.78l-13.62 -7.78zM122.62 47l13.62 7.78l-13.62 7.78l-13.62 -7.78zM163.5 70.5l13.62 7.78l-13.62 7.78l-13.62 -7.78z" fill="#f46c81"/><path d="M83 10.45l10.68 6.09v11.64l-10.68 -6.09zM69.38 33.95l10.68 6.09v11.64l-10.68 -6.09zM205.62 33.95l10.68 6.09v11.64l-10.68 -6.09zM232.88 33.95l10.68 6.09v11.64l-10.68 -6.09zM28.5 57.45l10.68 6.09v11.64l-10.68 -6.09zM110.25 57.45l10.68 6.09v11.64l-10.68 -6.09zM151.12 80.95l10.68 6.09v11.64l-10.68 -6.09z" fill="#ee2e45" stroke="#ee2e45" stroke-width="2" stroke-linejoin="round"/></svg></div>
<div class="card" style="left:811px;top:139px;width:340px;height:245px"><svg class="git" viewBox="0 0 16 16" width="14.6" height="14.6"><rect x="2.6" y="2.6" width="10.8" height="10.8" rx="1.2" transform="rotate(45 8 8)" fill="#e8512f"/><path d="M6.1 4.4 L9.9 8.2 M8 6.3 V11.4" stroke="#fff" stroke-width="1" fill="none" stroke-linecap="round"/><circle cx="8" cy="6.2" r="1.1" fill="#fff"/><circle cx="10" cy="8.3" r="1.1" fill="#fff"/><circle cx="8" cy="11.3" r="1.1" fill="#fff"/></svg><div class="title" style="letter-spacing:0.09px">Underwriting</div><div class="sub"><span class="rp">70 repos</span><span class="bar"></span><b>21d ago</b></div><div class="bdg err"><span>12 ERR</span></div><div class="bdg wrn"><span>24 WRN</span></div><svg class="grid" style="left:24.9px;top:57.4px" width="288.12" height="174.1" viewBox="-1 -1 288.12 174.1"><path d="M13.62 0l13.62 7.78v15.55l-13.62 7.78l-13.62 -7.78v-15.55zM40.88 0l13.62 7.78v15.55l-13.62 7.78l-13.62 -7.78v-15.55zM68.12 0l13.62 7.78v15.55l-13.62 7.78l-13.62 -7.78v-15.55zM95.38 0l13.62 7.78v15.55l-13.62 7.78l-13.62 -7.78v-15.55zM122.62 0l13.62 7.78v15.55l-13.62 7.78l-13.62 -7.78v-15.55zM177.12 0l13.62 7.78v15.55l-13.62 7.78l-13.62 -7.78v-15.55zM204.38 0l13.62 7.78v15.55l-13.62 7.78l-13.62 -7.78v-15.55zM258.88 0l13.62 7.78v15.55l-13.62 7.78l-13.62 -7.78v-15.55zM27.25 23.5l13.62 7.78v15.55l-13.62 7.78l-13.62 -7.78v-15.55zM109 23.5l13.62 7.78v15.55l-13.62 7.78l-13.62 -7.78v-15.55zM136.25 23.5l13.62 7.78v15.55l-13.62 7.78l-13.62 -7.78v-15.55zM163.5 23.5l13.62 7.78v15.55l-13.62 7.78l-13.62 -7.78v-15.55zM218 23.5l13.62 7.78v15.55l-13.62 7.78l-13.62 -7.78v-15.55zM245.25 23.5l13.62 7.78v15.55l-13.62 7.78l-13.62 -7.78v-15.55zM13.62 47l13.62 7.78v15.55l-13.62 7.78l-13.62 -7.78v-15.55zM40.88 47l13.62 7.78v15.55l-13.62 7.78l-13.62 -7.78v-15.55zM68.12 47l13.62 7.78v15.55l-13.62 7.78l-13.62 -7.78v-15.55zM95.38 47l13.62 7.78v15.55l-13.62 7.78l-13.62 -7.78v-15.55zM122.62 47l13.62 7.78v15.55l-13.62 7.78l-13.62 -7.78v-15.55zM149.88 47l13.62 7.78v15.55l-13.62 7.78l-13.62 -7.78v-15.55zM204.38 47l13.62 7.78v15.55l-13.62 7.78l-13.62 -7.78v-15.55zM231.62 47l13.62 7.78v15.55l-13.62 7.78l-13.62 -7.78v-15.55zM258.88 47l13.62 7.78v15.55l-13.62 7.78l-13.62 -7.78v-15.55zM27.25 70.5l13.62 7.78v15.55l-13.62 7.78l-13.62 -7.78v-15.55zM81.75 70.5l13.62 7.78v15.55l-13.62 7.78l-13.62 -7.78v-15.55zM136.25 70.5l13.62 7.78v15.55l-13.62 7.78l-13.62 -7.78v-15.55zM163.5 70.5l13.62 7.78v15.55l-13.62 7.78l-13.62 -7.78v-15.55zM190.75 70.5l13.62 7.78v15.55l-13.62 7.78l-13.62 -7.78v-15.55zM218 70.5l13.62 7.78v15.55l-13.62 7.78l-13.62 -7.78v-15.55zM245.25 70.5l13.62 7.78v15.55l-13.62 7.78l-13.62 -7.78v-15.55zM13.62 94l13.62 7.78v15.55l-13.62 7.78l-13.62 -7.78v-15.55zM40.88 94l13.62 7.78v15.55l-13.62 7.78l-13.62 -7.78v-15.55zM68.12 94l13.62 7.78v15.55l-13.62 7.78l-13.62 -7.78v-15.55zM95.38 94l13.62 7.78v15.55l-13.62 7.78l-13.62 -7.78v-15.55zM122.62 94l13.62 7.78v15.55l-13.62 7.78l-13.62 -7.78v-15.55zM149.88 94l13.62 7.78v15.55l-13.62 7.78l-13.62 -7.78v-15.55zM177.12 94l13.62 7.78v15.55l-13.62 7.78l-13.62 -7.78v-15.55zM204.38 94l13.62 7.78v15.55l-13.62 7.78l-13.62 -7.78v-15.55zM258.88 94l13.62 7.78v15.55l-13.62 7.78l-13.62 -7.78v-15.55zM54.5 117.5l13.62 7.78v15.55l-13.62 7.78l-13.62 -7.78v-15.55zM81.75 117.5l13.62 7.78v15.55l-13.62 7.78l-13.62 -7.78v-15.55zM109 117.5l13.62 7.78v15.55l-13.62 7.78l-13.62 -7.78v-15.55zM136.25 117.5l13.62 7.78v15.55l-13.62 7.78l-13.62 -7.78v-15.55zM163.5 117.5l13.62 7.78v15.55l-13.62 7.78l-13.62 -7.78v-15.55zM190.75 117.5l13.62 7.78v15.55l-13.62 7.78l-13.62 -7.78v-15.55zM218 117.5l13.62 7.78v15.55l-13.62 7.78l-13.62 -7.78v-15.55zM245.25 117.5l13.62 7.78v15.55l-13.62 7.78l-13.62 -7.78v-15.55zM272.5 117.5l13.62 7.78v15.55l-13.62 7.78l-13.62 -7.78v-15.55zM13.62 141l13.62 7.78v15.55l-13.62 7.78l-13.62 -7.78v-15.55zM40.88 141l13.62 7.78v15.55l-13.62 7.78l-13.62 -7.78v-15.55zM68.12 141l13.62 7.78v15.55l-13.62 7.78l-13.62 -7.78v-15.55zM95.38 141l13.62 7.78v15.55l-13.62 7.78l-13.62 -7.78v-15.55zM149.88 141l13.62 7.78v15.55l-13.62 7.78l-13.62 -7.78v-15.55zM177.12 141l13.62 7.78v15.55l-13.62 7.78l-13.62 -7.78v-15.55zM204.38 141l13.62 7.78v15.55l-13.62 7.78l-13.62 -7.78v-15.55zM231.62 141l13.62 7.78v15.55l-13.62 7.78l-13.62 -7.78v-15.55z" fill="#1ccf73" stroke="#1ccf73" stroke-width="0.5"/><path d="M149.88 0l13.62 7.78v15.55l-13.62 7.78l-13.62 -7.78v-15.55zM54.5 23.5l13.62 7.78v15.55l-13.62 7.78l-13.62 -7.78v-15.55zM81.75 23.5l13.62 7.78v15.55l-13.62 7.78l-13.62 -7.78v-15.55zM190.75 23.5l13.62 7.78v15.55l-13.62 7.78l-13.62 -7.78v-15.55zM272.5 23.5l13.62 7.78v15.55l-13.62 7.78l-13.62 -7.78v-15.55zM177.12 47l13.62 7.78v15.55l-13.62 7.78l-13.62 -7.78v-15.55zM54.5 70.5l13.62 7.78v15.55l-13.62 7.78l-13.62 -7.78v-15.55zM231.62 94l13.62 7.78v15.55l-13.62 7.78l-13.62 -7.78v-15.55zM27.25 117.5l13.62 7.78v15.55l-13.62 7.78l-13.62 -7.78v-15.55zM258.88 141l13.62 7.78v15.55l-13.62 7.78l-13.62 -7.78v-15.55z" fill="#fcc530" stroke="#fcc530" stroke-width="0.5"/><path d="M231.62 0l13.62 7.78v15.55l-13.62 7.78l-13.62 -7.78v-15.55zM109 70.5l13.62 7.78v15.55l-13.62 7.78l-13.62 -7.78v-15.55zM272.5 70.5l13.62 7.78v15.55l-13.62 7.78l-13.62 -7.78v-15.55zM122.62 141l13.62 7.78v15.55l-13.62 7.78l-13.62 -7.78v-15.55z" fill="#f46078" stroke="#f46078" stroke-width="0.5"/><path d="M13.62 0l13.62 7.78l-13.62 7.78l-13.62 -7.78zM40.88 0l13.62 7.78l-13.62 7.78l-13.62 -7.78zM68.12 0l13.62 7.78l-13.62 7.78l-13.62 -7.78zM95.38 0l13.62 7.78l-13.62 7.78l-13.62 -7.78zM122.62 0l13.62 7.78l-13.62 7.78l-13.62 -7.78zM177.12 0l13.62 7.78l-13.62 7.78l-13.62 -7.78zM204.38 0l13.62 7.78l-13.62 7.78l-13.62 -7.78zM258.88 0l13.62 7.78l-13.62 7.78l-13.62 -7.78zM27.25 23.5l13.62 7.78l-13.62 7.78l-13.62 -7.78zM109 23.5l13.62 7.78l-13.62 7.78l-13.62 -7.78zM136.25 23.5l13.62 7.78l-13.62 7.78l-13.62 -7.78zM163.5 23.5l13.62 7.78l-13.62 7.78l-13.62 -7.78zM218 23.5l13.62 7.78l-13.62 7.78l-13.62 -7.78zM245.25 23.5l13.62 7.78l-13.62 7.78l-13.62 -7.78zM13.62 47l13.62 7.78l-13.62 7.78l-13.62 -7.78zM40.88 47l13.62 7.78l-13.62 7.78l-13.62 -7.78zM68.12 47l13.62 7.78l-13.62 7.78l-13.62 -7.78zM95.38 47l13.62 7.78l-13.62 7.78l-13.62 -7.78zM122.62 47l13.62 7.78l-13.62 7.78l-13.62 -7.78zM149.88 47l13.62 7.78l-13.62 7.78l-13.62 -7.78zM204.38 47l13.62 7.78l-13.62 7.78l-13.62 -7.78zM231.62 47l13.62 7.78l-13.62 7.78l-13.62 -7.78zM258.88 47l13.62 7.78l-13.62 7.78l-13.62 -7.78zM27.25 70.5l13.62 7.78l-13.62 7.78l-13.62 -7.78zM81.75 70.5l13.62 7.78l-13.62 7.78l-13.62 -7.78zM136.25 70.5l13.62 7.78l-13.62 7.78l-13.62 -7.78zM163.5 70.5l13.62 7.78l-13.62 7.78l-13.62 -7.78zM190.75 70.5l13.62 7.78l-13.62 7.78l-13.62 -7.78zM218 70.5l13.62 7.78l-13.62 7.78l-13.62 -7.78zM245.25 70.5l13.62 7.78l-13.62 7.78l-13.62 -7.78zM13.62 94l13.62 7.78l-13.62 7.78l-13.62 -7.78zM40.88 94l13.62 7.78l-13.62 7.78l-13.62 -7.78zM68.12 94l13.62 7.78l-13.62 7.78l-13.62 -7.78zM95.38 94l13.62 7.78l-13.62 7.78l-13.62 -7.78zM122.62 94l13.62 7.78l-13.62 7.78l-13.62 -7.78zM149.88 94l13.62 7.78l-13.62 7.78l-13.62 -7.78zM177.12 94l13.62 7.78l-13.62 7.78l-13.62 -7.78zM204.38 94l13.62 7.78l-13.62 7.78l-13.62 -7.78zM258.88 94l13.62 7.78l-13.62 7.78l-13.62 -7.78zM54.5 117.5l13.62 7.78l-13.62 7.78l-13.62 -7.78zM81.75 117.5l13.62 7.78l-13.62 7.78l-13.62 -7.78zM109 117.5l13.62 7.78l-13.62 7.78l-13.62 -7.78zM136.25 117.5l13.62 7.78l-13.62 7.78l-13.62 -7.78zM163.5 117.5l13.62 7.78l-13.62 7.78l-13.62 -7.78zM190.75 117.5l13.62 7.78l-13.62 7.78l-13.62 -7.78zM218 117.5l13.62 7.78l-13.62 7.78l-13.62 -7.78zM245.25 117.5l13.62 7.78l-13.62 7.78l-13.62 -7.78zM272.5 117.5l13.62 7.78l-13.62 7.78l-13.62 -7.78zM13.62 141l13.62 7.78l-13.62 7.78l-13.62 -7.78zM40.88 141l13.62 7.78l-13.62 7.78l-13.62 -7.78zM68.12 141l13.62 7.78l-13.62 7.78l-13.62 -7.78zM95.38 141l13.62 7.78l-13.62 7.78l-13.62 -7.78zM149.88 141l13.62 7.78l-13.62 7.78l-13.62 -7.78zM177.12 141l13.62 7.78l-13.62 7.78l-13.62 -7.78zM204.38 141l13.62 7.78l-13.62 7.78l-13.62 -7.78zM231.62 141l13.62 7.78l-13.62 7.78l-13.62 -7.78z" fill="#27d27a"/><path d="M1.25 10.45l10.68 6.09v11.64l-10.68 -6.09zM28.5 10.45l10.68 6.09v11.64l-10.68 -6.09zM55.75 10.45l10.68 6.09v11.64l-10.68 -6.09zM83 10.45l10.68 6.09v11.64l-10.68 -6.09zM110.25 10.45l10.68 6.09v11.64l-10.68 -6.09zM164.75 10.45l10.68 6.09v11.64l-10.68 -6.09zM192 10.45l10.68 6.09v11.64l-10.68 -6.09zM246.5 10.45l10.68 6.09v11.64l-10.68 -6.09zM14.88 33.95l10.68 6.09v11.64l-10.68 -6.09zM96.62 33.95l10.68 6.09v11.64l-10.68 -6.09zM123.88 33.95l10.68 6.09v11.64l-10.68 -6.09zM151.12 33.95l10.68 6.09v11.64l-10.68 -6.09zM205.62 33.95l10.68 6.09v11.64l-10.68 -6.09zM232.88 33.95l10.68 6.09v11.64l-10.68 -6.09zM1.25 57.45l10.68 6.09v11.64l-10.68 -6.09zM28.5 57.45l10.68 6.09v11.64l-10.68 -6.09zM55.75 57.45l10.68 6.09v11.64l-10.68 -6.09zM83 57.45l10.68 6.09v11.64l-10.68 -6.09zM110.25 57.45l10.68 6.09v11.64l-10.68 -6.09zM137.5 57.45l10.68 6.09v11.64l-10.68 -6.09zM192 57.45l10.68 6.09v11.64l-10.68 -6.09zM219.25 57.45l10.68 6.09v11.64l-10.68 -6.09zM246.5 57.45l10.68 6.09v11.64l-10.68 -6.09zM14.88 80.95l10.68 6.09v11.64l-10.68 -6.09zM69.38 80.95l10.68 6.09v11.64l-10.68 -6.09zM123.88 80.95l10.68 6.09v11.64l-10.68 -6.09zM151.12 80.95l10.68 6.09v11.64l-10.68 -6.09zM178.38 80.95l10.68 6.09v11.64l-10.68 -6.09zM205.62 80.95l10.68 6.09v11.64l-10.68 -6.09zM232.88 80.95l10.68 6.09v11.64l-10.68 -6.09zM1.25 104.45l10.68 6.09v11.64l-10.68 -6.09zM28.5 104.45l10.68 6.09v11.64l-10.68 -6.09zM55.75 104.45l10.68 6.09v11.64l-10.68 -6.09zM83 104.45l10.68 6.09v11.64l-10.68 -6.09zM110.25 104.45l10.68 6.09v11.64l-10.68 -6.09zM137.5 104.45l10.68 6.09v11.64l-10.68 -6.09zM164.75 104.45l10.68 6.09v11.64l-10.68 -6.09zM192 104.45l10.68 6.09v11.64l-10.68 -6.09zM246.5 104.45l10.68 6.09v11.64l-10.68 -6.09zM42.12 127.95l10.68 6.09v11.64l-10.68 -6.09zM69.38 127.95l10.68 6.09v11.64l-10.68 -6.09zM96.62 127.95l10.68 6.09v11.64l-10.68 -6.09zM123.88 127.95l10.68 6.09v11.64l-10.68 -6.09zM151.12 127.95l10.68 6.09v11.64l-10.68 -6.09zM178.38 127.95l10.68 6.09v11.64l-10.68 -6.09zM205.62 127.95l10.68 6.09v11.64l-10.68 -6.09zM232.88 127.95l10.68 6.09v11.64l-10.68 -6.09zM260.12 127.95l10.68 6.09v11.64l-10.68 -6.09zM1.25 151.45l10.68 6.09v11.64l-10.68 -6.09zM28.5 151.45l10.68 6.09v11.64l-10.68 -6.09zM55.75 151.45l10.68 6.09v11.64l-10.68 -6.09zM83 151.45l10.68 6.09v11.64l-10.68 -6.09zM137.5 151.45l10.68 6.09v11.64l-10.68 -6.09zM164.75 151.45l10.68 6.09v11.64l-10.68 -6.09zM192 151.45l10.68 6.09v11.64l-10.68 -6.09zM219.25 151.45l10.68 6.09v11.64l-10.68 -6.09z" fill="#10b25e" stroke="#10b25e" stroke-width="2" stroke-linejoin="round"/><path d="M149.88 0l13.62 7.78l-13.62 7.78l-13.62 -7.78zM54.5 23.5l13.62 7.78l-13.62 7.78l-13.62 -7.78zM81.75 23.5l13.62 7.78l-13.62 7.78l-13.62 -7.78zM190.75 23.5l13.62 7.78l-13.62 7.78l-13.62 -7.78zM272.5 23.5l13.62 7.78l-13.62 7.78l-13.62 -7.78zM177.12 47l13.62 7.78l-13.62 7.78l-13.62 -7.78zM54.5 70.5l13.62 7.78l-13.62 7.78l-13.62 -7.78zM231.62 94l13.62 7.78l-13.62 7.78l-13.62 -7.78zM27.25 117.5l13.62 7.78l-13.62 7.78l-13.62 -7.78zM258.88 141l13.62 7.78l-13.62 7.78l-13.62 -7.78z" fill="#fdc733"/><path d="M137.5 10.45l10.68 6.09v11.64l-10.68 -6.09zM42.12 33.95l10.68 6.09v11.64l-10.68 -6.09zM69.38 33.95l10.68 6.09v11.64l-10.68 -6.09zM178.38 33.95l10.68 6.09v11.64l-10.68 -6.09zM260.12 33.95l10.68 6.09v11.64l-10.68 -6.09zM164.75 57.45l10.68 6.09v11.64l-10.68 -6.09zM42.12 80.95l10.68 6.09v11.64l-10.68 -6.09zM219.25 104.45l10.68 6.09v11.64l-10.68 -6.09zM14.88 127.95l10.68 6.09v11.64l-10.68 -6.09zM246.5 151.45l10.68 6.09v11.64l-10.68 -6.09z" fill="#f3b924" stroke="#f3b924" stroke-width="2" stroke-linejoin="round"/><path d="M231.62 0l13.62 7.78l-13.62 7.78l-13.62 -7.78zM109 70.5l13.62 7.78l-13.62 7.78l-13.62 -7.78zM272.5 70.5l13.62 7.78l-13.62 7.78l-13.62 -7.78zM122.62 141l13.62 7.78l-13.62 7.78l-13.62 -7.78z" fill="#f46c81"/><path d="M219.25 10.45l10.68 6.09v11.64l-10.68 -6.09zM96.62 80.95l10.68 6.09v11.64l-10.68 -6.09zM260.12 80.95l10.68 6.09v11.64l-10.68 -6.09zM110.25 151.45l10.68 6.09v11.64l-10.68 -6.09z" fill="#ee2e45" stroke="#ee2e45" stroke-width="2" stroke-linejoin="round"/></svg></div>
<div class="card" style="left:77px;top:434.3px;width:340px;height:246.3px"><svg class="git" viewBox="0 0 16 16" width="14.6" height="14.6"><rect x="2.6" y="2.6" width="10.8" height="10.8" rx="1.2" transform="rotate(45 8 8)" fill="#e8512f"/><path d="M6.1 4.4 L9.9 8.2 M8 6.3 V11.4" stroke="#fff" stroke-width="1" fill="none" stroke-linecap="round"/><circle cx="8" cy="6.2" r="1.1" fill="#fff"/><circle cx="10" cy="8.3" r="1.1" fill="#fff"/><circle cx="8" cy="11.3" r="1.1" fill="#fff"/></svg><div class="title" style="letter-spacing:-0.18px">Cloud Engineering</div><div class="sub"><span class="rp">70 repos</span><span class="bar"></span><b>21d ago</b></div><div class="bdg err"><span>9 ERR</span></div><div class="bdg wrn"><span>43 WRN</span></div><svg class="grid" style="left:24.5px;top:58.6px" width="288.12" height="174.1" viewBox="-1 -1 288.12 174.1"><path d="M13.62 0l13.62 7.78v15.55l-13.62 7.78l-13.62 -7.78v-15.55zM40.88 0l13.62 7.78v15.55l-13.62 7.78l-13.62 -7.78v-15.55zM95.38 0l13.62 7.78v15.55l-13.62 7.78l-13.62 -7.78v-15.55zM122.62 0l13.62 7.78v15.55l-13.62 7.78l-13.62 -7.78v-15.55zM149.88 0l13.62 7.78v15.55l-13.62 7.78l-13.62 -7.78v-15.55zM177.12 0l13.62 7.78v15.55l-13.62 7.78l-13.62 -7.78v-15.55zM204.38 0l13.62 7.78v15.55l-13.62 7.78l-13.62 -7.78v-15.55zM27.25 23.5l13.62 7.78v15.55l-13.62 7.78l-13.62 -7.78v-15.55zM54.5 23.5l13.62 7.78v15.55l-13.62 7.78l-13.62 -7.78v-15.55zM81.75 23.5l13.62 7.78v15.55l-13.62 7.78l-13.62 -7.78v-15.55zM109 23.5l13.62 7.78v15.55l-13.62 7.78l-13.62 -7.78v-15.55zM136.25 23.5l13.62 7.78v15.55l-13.62 7.78l-13.62 -7.78v-15.55zM163.5 23.5l13.62 7.78v15.55l-13.62 7.78l-13.62 -7.78v-15.55zM190.75 23.5l13.62 7.78v15.55l-13.62 7.78l-13.62 -7.78v-15.55zM218 23.5l13.62 7.78v15.55l-13.62 7.78l-13.62 -7.78v-15.55zM245.25 23.5l13.62 7.78v15.55l-13.62 7.78l-13.62 -7.78v-15.55zM272.5 23.5l13.62 7.78v15.55l-13.62 7.78l-13.62 -7.78v-15.55zM40.88 47l13.62 7.78v15.55l-13.62 7.78l-13.62 -7.78v-15.55zM68.12 47l13.62 7.78v15.55l-13.62 7.78l-13.62 -7.78v-15.55zM95.38 47l13.62 7.78v15.55l-13.62 7.78l-13.62 -7.78v-15.55zM122.62 47l13.62 7.78v15.55l-13.62 7.78l-13.62 -7.78v-15.55zM231.62 47l13.62 7.78v15.55l-13.62 7.78l-13.62 -7.78v-15.55zM258.88 47l13.62 7.78v15.55l-13.62 7.78l-13.62 -7.78v-15.55zM54.5 70.5l13.62 7.78v15.55l-13.62 7.78l-13.62 -7.78v-15.55zM81.75 70.5l13.62 7.78v15.55l-13.62 7.78l-13.62 -7.78v-15.55zM109 70.5l13.62 7.78v15.55l-13.62 7.78l-13.62 -7.78v-15.55zM136.25 70.5l13.62 7.78v15.55l-13.62 7.78l-13.62 -7.78v-15.55zM163.5 70.5l13.62 7.78v15.55l-13.62 7.78l-13.62 -7.78v-15.55zM190.75 70.5l13.62 7.78v15.55l-13.62 7.78l-13.62 -7.78v-15.55zM245.25 70.5l13.62 7.78v15.55l-13.62 7.78l-13.62 -7.78v-15.55zM272.5 70.5l13.62 7.78v15.55l-13.62 7.78l-13.62 -7.78v-15.55zM13.62 94l13.62 7.78v15.55l-13.62 7.78l-13.62 -7.78v-15.55zM68.12 94l13.62 7.78v15.55l-13.62 7.78l-13.62 -7.78v-15.55zM95.38 94l13.62 7.78v15.55l-13.62 7.78l-13.62 -7.78v-15.55zM122.62 94l13.62 7.78v15.55l-13.62 7.78l-13.62 -7.78v-15.55zM177.12 94l13.62 7.78v15.55l-13.62 7.78l-13.62 -7.78v-15.55zM204.38 94l13.62 7.78v15.55l-13.62 7.78l-13.62 -7.78v-15.55zM231.62 94l13.62 7.78v15.55l-13.62 7.78l-13.62 -7.78v-15.55zM258.88 94l13.62 7.78v15.55l-13.62 7.78l-13.62 -7.78v-15.55zM27.25 117.5l13.62 7.78v15.55l-13.62 7.78l-13.62 -7.78v-15.55zM54.5 117.5l13.62 7.78v15.55l-13.62 7.78l-13.62 -7.78v-15.55zM81.75 117.5l13.62 7.78v15.55l-13.62 7.78l-13.62 -7.78v-15.55zM109 117.5l13.62 7.78v15.55l-13.62 7.78l-13.62 -7.78v-15.55zM136.25 117.5l13.62 7.78v15.55l-13.62 7.78l-13.62 -7.78v-15.55zM163.5 117.5l13.62 7.78v15.55l-13.62 7.78l-13.62 -7.78v-15.55zM245.25 117.5l13.62 7.78v15.55l-13.62 7.78l-13.62 -7.78v-15.55zM272.5 117.5l13.62 7.78v15.55l-13.62 7.78l-13.62 -7.78v-15.55zM13.62 141l13.62 7.78v15.55l-13.62 7.78l-13.62 -7.78v-15.55zM40.88 141l13.62 7.78v15.55l-13.62 7.78l-13.62 -7.78v-15.55zM68.12 141l13.62 7.78v15.55l-13.62 7.78l-13.62 -7.78v-15.55zM95.38 141l13.62 7.78v15.55l-13.62 7.78l-13.62 -7.78v-15.55zM122.62 141l13.62 7.78v15.55l-13.62 7.78l-13.62 -7.78v-15.55zM149.88 141l13.62 7.78v15.55l-13.62 7.78l-13.62 -7.78v-15.55zM177.12 141l13.62 7.78v15.55l-13.62 7.78l-13.62 -7.78v-15.55zM204.38 141l13.62 7.78v15.55l-13.62 7.78l-13.62 -7.78v-15.55zM231.62 141l13.62 7.78v15.55l-13.62 7.78l-13.62 -7.78v-15.55zM258.88 141l13.62 7.78v15.55l-13.62 7.78l-13.62 -7.78v-15.55z" fill="#1ccf73" stroke="#1ccf73" stroke-width="0.5"/><path d="M68.12 0l13.62 7.78v15.55l-13.62 7.78l-13.62 -7.78v-15.55zM258.88 0l13.62 7.78v15.55l-13.62 7.78l-13.62 -7.78v-15.55zM13.62 47l13.62 7.78v15.55l-13.62 7.78l-13.62 -7.78v-15.55zM149.88 47l13.62 7.78v15.55l-13.62 7.78l-13.62 -7.78v-15.55zM177.12 47l13.62 7.78v15.55l-13.62 7.78l-13.62 -7.78v-15.55zM27.25 70.5l13.62 7.78v15.55l-13.62 7.78l-13.62 -7.78v-15.55zM218 70.5l13.62 7.78v15.55l-13.62 7.78l-13.62 -7.78v-15.55zM40.88 94l13.62 7.78v15.55l-13.62 7.78l-13.62 -7.78v-15.55zM149.88 94l13.62 7.78v15.55l-13.62 7.78l-13.62 -7.78v-15.55zM190.75 117.5l13.62 7.78v15.55l-13.62 7.78l-13.62 -7.78v-15.55zM218 117.5l13.62 7.78v15.55l-13.62 7.78l-13.62 -7.78v-15.55z" fill="#fcc530" stroke="#fcc530" stroke-width="0.5"/><path d="M231.62 0l13.62 7.78v15.55l-13.62 7.78l-13.62 -7.78v-15.55zM204.38 47l13.62 7.78v15.55l-13.62 7.78l-13.62 -7.78v-15.55z" fill="#f46078" stroke="#f46078" stroke-width="0.5"/><path d="M13.62 0l13.62 7.78l-13.62 7.78l-13.62 -7.78zM40.88 0l13.62 7.78l-13.62 7.78l-13.62 -7.78zM95.38 0l13.62 7.78l-13.62 7.78l-13.62 -7.78zM122.62 0l13.62 7.78l-13.62 7.78l-13.62 -7.78zM149.88 0l13.62 7.78l-13.62 7.78l-13.62 -7.78zM177.12 0l13.62 7.78l-13.62 7.78l-13.62 -7.78zM204.38 0l13.62 7.78l-13.62 7.78l-13.62 -7.78zM27.25 23.5l13.62 7.78l-13.62 7.78l-13.62 -7.78zM54.5 23.5l13.62 7.78l-13.62 7.78l-13.62 -7.78zM81.75 23.5l13.62 7.78l-13.62 7.78l-13.62 -7.78zM109 23.5l13.62 7.78l-13.62 7.78l-13.62 -7.78zM136.25 23.5l13.62 7.78l-13.62 7.78l-13.62 -7.78zM163.5 23.5l13.62 7.78l-13.62 7.78l-13.62 -7.78zM190.75 23.5l13.62 7.78l-13.62 7.78l-13.62 -7.78zM218 23.5l13.62 7.78l-13.62 7.78l-13.62 -7.78zM245.25 23.5l13.62 7.78l-13.62 7.78l-13.62 -7.78zM272.5 23.5l13.62 7.78l-13.62 7.78l-13.62 -7.78zM40.88 47l13.62 7.78l-13.62 7.78l-13.62 -7.78zM68.12 47l13.62 7.78l-13.62 7.78l-13.62 -7.78zM95.38 47l13.62 7.78l-13.62 7.78l-13.62 -7.78zM122.62 47l13.62 7.78l-13.62 7.78l-13.62 -7.78zM231.62 47l13.62 7.78l-13.62 7.78l-13.62 -7.78zM258.88 47l13.62 7.78l-13.62 7.78l-13.62 -7.78zM54.5 70.5l13.62 7.78l-13.62 7.78l-13.62 -7.78zM81.75 70.5l13.62 7.78l-13.62 7.78l-13.62 -7.78zM109 70.5l13.62 7.78l-13.62 7.78l-13.62 -7.78zM136.25 70.5l13.62 7.78l-13.62 7.78l-13.62 -7.78zM163.5 70.5l13.62 7.78l-13.62 7.78l-13.62 -7.78zM190.75 70.5l13.62 7.78l-13.62 7.78l-13.62 -7.78zM245.25 70.5l13.62 7.78l-13.62 7.78l-13.62 -7.78zM272.5 70.5l13.62 7.78l-13.62 7.78l-13.62 -7.78zM13.62 94l13.62 7.78l-13.62 7.78l-13.62 -7.78zM68.12 94l13.62 7.78l-13.62 7.78l-13.62 -7.78zM95.38 94l13.62 7.78l-13.62 7.78l-13.62 -7.78zM122.62 94l13.62 7.78l-13.62 7.78l-13.62 -7.78zM177.12 94l13.62 7.78l-13.62 7.78l-13.62 -7.78zM204.38 94l13.62 7.78l-13.62 7.78l-13.62 -7.78zM231.62 94l13.62 7.78l-13.62 7.78l-13.62 -7.78zM258.88 94l13.62 7.78l-13.62 7.78l-13.62 -7.78zM27.25 117.5l13.62 7.78l-13.62 7.78l-13.62 -7.78zM54.5 117.5l13.62 7.78l-13.62 7.78l-13.62 -7.78zM81.75 117.5l13.62 7.78l-13.62 7.78l-13.62 -7.78zM109 117.5l13.62 7.78l-13.62 7.78l-13.62 -7.78zM136.25 117.5l13.62 7.78l-13.62 7.78l-13.62 -7.78zM163.5 117.5l13.62 7.78l-13.62 7.78l-13.62 -7.78zM245.25 117.5l13.62 7.78l-13.62 7.78l-13.62 -7.78zM272.5 117.5l13.62 7.78l-13.62 7.78l-13.62 -7.78zM13.62 141l13.62 7.78l-13.62 7.78l-13.62 -7.78zM40.88 141l13.62 7.78l-13.62 7.78l-13.62 -7.78zM68.12 141l13.62 7.78l-13.62 7.78l-13.62 -7.78zM95.38 141l13.62 7.78l-13.62 7.78l-13.62 -7.78zM122.62 141l13.62 7.78l-13.62 7.78l-13.62 -7.78zM149.88 141l13.62 7.78l-13.62 7.78l-13.62 -7.78zM177.12 141l13.62 7.78l-13.62 7.78l-13.62 -7.78zM204.38 141l13.62 7.78l-13.62 7.78l-13.62 -7.78zM231.62 141l13.62 7.78l-13.62 7.78l-13.62 -7.78zM258.88 141l13.62 7.78l-13.62 7.78l-13.62 -7.78z" fill="#27d27a"/><path d="M1.25 10.45l10.68 6.09v11.64l-10.68 -6.09zM28.5 10.45l10.68 6.09v11.64l-10.68 -6.09zM83 10.45l10.68 6.09v11.64l-10.68 -6.09zM110.25 10.45l10.68 6.09v11.64l-10.68 -6.09zM137.5 10.45l10.68 6.09v11.64l-10.68 -6.09zM164.75 10.45l10.68 6.09v11.64l-10.68 -6.09zM192 10.45l10.68 6.09v11.64l-10.68 -6.09zM14.88 33.95l10.68 6.09v11.64l-10.68 -6.09zM42.12 33.95l10.68 6.09v11.64l-10.68 -6.09zM69.38 33.95l10.68 6.09v11.64l-10.68 -6.09zM96.62 33.95l10.68 6.09v11.64l-10.68 -6.09zM123.88 33.95l10.68 6.09v11.64l-10.68 -6.09zM151.12 33.95l10.68 6.09v11.64l-10.68 -6.09zM178.38 33.95l10.68 6.09v11.64l-10.68 -6.09zM205.62 33.95l10.68 6.09v11.64l-10.68 -6.09zM232.88 33.95l10.68 6.09v11.64l-10.68 -6.09zM260.12 33.95l10.68 6.09v11.64l-10.68 -6.09zM28.5 57.45l10.68 6.09v11.64l-10.68 -6.09zM55.75 57.45l10.68 6.09v11.64l-10.68 -6.09zM83 57.45l10.68 6.09v11.64l-10.68 -6.09zM110.25 57.45l10.68 6.09v11.64l-10.68 -6.09zM219.25 57.45l10.68 6.09v11.64l-10.68 -6.09zM246.5 57.45l10.68 6.09v11.64l-10.68 -6.09zM42.12 80.95l10.68 6.09v11.64l-10.68 -6.09zM69.38 80.95l10.68 6.09v11.64l-10.68 -6.09zM96.62 80.95l10.68 6.09v11.64l-10.68 -6.09zM123.88 80.95l10.68 6.09v11.64l-10.68 -6.09zM151.12 80.95l10.68 6.09v11.64l-10.68 -6.09zM178.38 80.95l10.68 6.09v11.64l-10.68 -6.09zM232.88 80.95l10.68 6.09v11.64l-10.68 -6.09zM260.12 80.95l10.68 6.09v11.64l-10.68 -6.09zM1.25 104.45l10.68 6.09v11.64l-10.68 -6.09zM55.75 104.45l10.68 6.09v11.64l-10.68 -6.09zM83 104.45l10.68 6.09v11.64l-10.68 -6.09zM110.25 104.45l10.68 6.09v11.64l-10.68 -6.09zM164.75 104.45l10.68 6.09v11.64l-10.68 -6.09zM192 104.45l10.68 6.09v11.64l-10.68 -6.09zM219.25 104.45l10.68 6.09v11.64l-10.68 -6.09zM246.5 104.45l10.68 6.09v11.64l-10.68 -6.09zM14.88 127.95l10.68 6.09v11.64l-10.68 -6.09zM42.12 127.95l10.68 6.09v11.64l-10.68 -6.09zM69.38 127.95l10.68 6.09v11.64l-10.68 -6.09zM96.62 127.95l10.68 6.09v11.64l-10.68 -6.09zM123.88 127.95l10.68 6.09v11.64l-10.68 -6.09zM151.12 127.95l10.68 6.09v11.64l-10.68 -6.09zM232.88 127.95l10.68 6.09v11.64l-10.68 -6.09zM260.12 127.95l10.68 6.09v11.64l-10.68 -6.09zM1.25 151.45l10.68 6.09v11.64l-10.68 -6.09zM28.5 151.45l10.68 6.09v11.64l-10.68 -6.09zM55.75 151.45l10.68 6.09v11.64l-10.68 -6.09zM83 151.45l10.68 6.09v11.64l-10.68 -6.09zM110.25 151.45l10.68 6.09v11.64l-10.68 -6.09zM137.5 151.45l10.68 6.09v11.64l-10.68 -6.09zM164.75 151.45l10.68 6.09v11.64l-10.68 -6.09zM192 151.45l10.68 6.09v11.64l-10.68 -6.09zM219.25 151.45l10.68 6.09v11.64l-10.68 -6.09zM246.5 151.45l10.68 6.09v11.64l-10.68 -6.09z" fill="#10b25e" stroke="#10b25e" stroke-width="2" stroke-linejoin="round"/><path d="M68.12 0l13.62 7.78l-13.62 7.78l-13.62 -7.78zM258.88 0l13.62 7.78l-13.62 7.78l-13.62 -7.78zM13.62 47l13.62 7.78l-13.62 7.78l-13.62 -7.78zM149.88 47l13.62 7.78l-13.62 7.78l-13.62 -7.78zM177.12 47l13.62 7.78l-13.62 7.78l-13.62 -7.78zM27.25 70.5l13.62 7.78l-13.62 7.78l-13.62 -7.78zM218 70.5l13.62 7.78l-13.62 7.78l-13.62 -7.78zM40.88 94l13.62 7.78l-13.62 7.78l-13.62 -7.78zM149.88 94l13.62 7.78l-13.62 7.78l-13.62 -7.78zM190.75 117.5l13.62 7.78l-13.62 7.78l-13.62 -7.78zM218 117.5l13.62 7.78l-13.62 7.78l-13.62 -7.78z" fill="#fdc733"/><path d="M55.75 10.45l10.68 6.09v11.64l-10.68 -6.09zM246.5 10.45l10.68 6.09v11.64l-10.68 -6.09zM1.25 57.45l10.68 6.09v11.64l-10.68 -6.09zM137.5 57.45l10.68 6.09v11.64l-10.68 -6.09zM164.75 57.45l10.68 6.09v11.64l-10.68 -6.09zM14.88 80.95l10.68 6.09v11.64l-10.68 -6.09zM205.62 80.95l10.68 6.09v11.64l-10.68 -6.09zM28.5 104.45l10.68 6.09v11.64l-10.68 -6.09zM137.5 104.45l10.68 6.09v11.64l-10.68 -6.09zM178.38 127.95l10.68 6.09v11.64l-10.68 -6.09zM205.62 127.95l10.68 6.09v11.64l-10.68 -6.09z" fill="#f3b924" stroke="#f3b924" stroke-width="2" stroke-linejoin="round"/><path d="M231.62 0l13.62 7.78l-13.62 7.78l-13.62 -7.78zM204.38 47l13.62 7.78l-13.62 7.78l-13.62 -7.78z" fill="#f46c81"/><path d="M219.25 10.45l10.68 6.09v11.64l-10.68 -6.09zM192 57.45l10.68 6.09v11.64l-10.68 -6.09z" fill="#ee2e45" stroke="#ee2e45" stroke-width="2" stroke-linejoin="round"/></svg></div>
<div class="card" style="left:444px;top:434.3px;width:286px;height:198.6px"><svg class="git" viewBox="0 0 16 16" width="14.6" height="14.6"><rect x="2.6" y="2.6" width="10.8" height="10.8" rx="1.2" transform="rotate(45 8 8)" fill="#e8512f"/><path d="M6.1 4.4 L9.9 8.2 M8 6.3 V11.4" stroke="#fff" stroke-width="1" fill="none" stroke-linecap="round"/><circle cx="8" cy="6.2" r="1.1" fill="#fff"/><circle cx="10" cy="8.3" r="1.1" fill="#fff"/><circle cx="8" cy="11.3" r="1.1" fill="#fff"/></svg><div class="title">Platform SDK</div><div class="sub"><span class="rp">37 repos</span><span class="bar"></span><b>6d ago</b></div><div class="bdg err"><span>10 ERR</span></div><div class="bdg wrn"><span>5 WRN</span></div><svg class="grid" style="left:24.6px;top:58.6px" width="233.62" height="127.1" viewBox="-1 -1 233.62 127.1"><path d="M13.62 0l13.62 7.78v15.55l-13.62 7.78l-13.62 -7.78v-15.55zM40.88 0l13.62 7.78v15.55l-13.62 7.78l-13.62 -7.78v-15.55zM95.38 0l13.62 7.78v15.55l-13.62 7.78l-13.62 -7.78v-15.55zM122.62 0l13.62 7.78v15.55l-13.62 7.78l-13.62 -7.78v-15.55zM177.12 0l13.62 7.78v15.55l-13.62 7.78l-13.62 -7.78v-15.55zM54.5 23.5l13.62 7.78v15.55l-13.62 7.78l-13.62 -7.78v-15.55zM81.75 23.5l13.62 7.78v15.55l-13.62 7.78l-13.62 -7.78v-15.55zM136.25 23.5l13.62 7.78v15.55l-13.62 7.78l-13.62 -7.78v-15.55zM163.5 23.5l13.62 7.78v15.55l-13.62 7.78l-13.62 -7.78v-15.55zM40.88 47l13.62 7.78v15.55l-13.62 7.78l-13.62 -7.78v-15.55zM68.12 47l13.62 7.78v15.55l-13.62 7.78l-13.62 -7.78v-15.55zM122.62 47l13.62 7.78v15.55l-13.62 7.78l-13.62 -7.78v-15.55zM149.88 47l13.62 7.78v15.55l-13.62 7.78l-13.62 -7.78v-15.55zM81.75 70.5l13.62 7.78v15.55l-13.62 7.78l-13.62 -7.78v-15.55zM109 70.5l13.62 7.78v15.55l-13.62 7.78l-13.62 -7.78v-15.55zM136.25 70.5l13.62 7.78v15.55l-13.62 7.78l-13.62 -7.78v-15.55zM190.75 70.5l13.62 7.78v15.55l-13.62 7.78l-13.62 -7.78v-15.55zM40.88 94l13.62 7.78v15.55l-13.62 7.78l-13.62 -7.78v-15.55zM68.12 94l13.62 7.78v15.55l-13.62 7.78l-13.62 -7.78v-15.55zM95.38 94l13.62 7.78v15.55l-13.62 7.78l-13.62 -7.78v-15.55z" fill="#1ccf73" stroke="#1ccf73" stroke-width="0.5"/><path d="M204.38 0l13.62 7.78v15.55l-13.62 7.78l-13.62 -7.78v-15.55zM27.25 23.5l13.62 7.78v15.55l-13.62 7.78l-13.62 -7.78v-15.55zM27.25 70.5l13.62 7.78v15.55l-13.62 7.78l-13.62 -7.78v-15.55z" fill="#fcc530" stroke="#fcc530" stroke-width="0.5"/><path d="M68.12 0l13.62 7.78v15.55l-13.62 7.78l-13.62 -7.78v-15.55zM149.88 0l13.62 7.78v15.55l-13.62 7.78l-13.62 -7.78v-15.55zM109 23.5l13.62 7.78v15.55l-13.62 7.78l-13.62 -7.78v-15.55zM190.75 23.5l13.62 7.78v15.55l-13.62 7.78l-13.62 -7.78v-15.55zM218 23.5l13.62 7.78v15.55l-13.62 7.78l-13.62 -7.78v-15.55zM13.62 47l13.62 7.78v15.55l-13.62 7.78l-13.62 -7.78v-15.55zM95.38 47l13.62 7.78v15.55l-13.62 7.78l-13.62 -7.78v-15.55zM177.12 47l13.62 7.78v15.55l-13.62 7.78l-13.62 -7.78v-15.55zM204.38 47l13.62 7.78v15.55l-13.62 7.78l-13.62 -7.78v-15.55zM54.5 70.5l13.62 7.78v15.55l-13.62 7.78l-13.62 -7.78v-15.55zM163.5 70.5l13.62 7.78v15.55l-13.62 7.78l-13.62 -7.78v-15.55zM218 70.5l13.62 7.78v15.55l-13.62 7.78l-13.62 -7.78v-15.55zM13.62 94l13.62 7.78v15.55l-13.62 7.78l-13.62 -7.78v-15.55zM122.62 94l13.62 7.78v15.55l-13.62 7.78l-13.62 -7.78v-15.55z" fill="#f46078" stroke="#f46078" stroke-width="0.5"/><path d="M13.62 0l13.62 7.78l-13.62 7.78l-13.62 -7.78zM40.88 0l13.62 7.78l-13.62 7.78l-13.62 -7.78zM95.38 0l13.62 7.78l-13.62 7.78l-13.62 -7.78zM122.62 0l13.62 7.78l-13.62 7.78l-13.62 -7.78zM177.12 0l13.62 7.78l-13.62 7.78l-13.62 -7.78zM54.5 23.5l13.62 7.78l-13.62 7.78l-13.62 -7.78zM81.75 23.5l13.62 7.78l-13.62 7.78l-13.62 -7.78zM136.25 23.5l13.62 7.78l-13.62 7.78l-13.62 -7.78zM163.5 23.5l13.62 7.78l-13.62 7.78l-13.62 -7.78zM40.88 47l13.62 7.78l-13.62 7.78l-13.62 -7.78zM68.12 47l13.62 7.78l-13.62 7.78l-13.62 -7.78zM122.62 47l13.62 7.78l-13.62 7.78l-13.62 -7.78zM149.88 47l13.62 7.78l-13.62 7.78l-13.62 -7.78zM81.75 70.5l13.62 7.78l-13.62 7.78l-13.62 -7.78zM109 70.5l13.62 7.78l-13.62 7.78l-13.62 -7.78zM136.25 70.5l13.62 7.78l-13.62 7.78l-13.62 -7.78zM190.75 70.5l13.62 7.78l-13.62 7.78l-13.62 -7.78zM40.88 94l13.62 7.78l-13.62 7.78l-13.62 -7.78zM68.12 94l13.62 7.78l-13.62 7.78l-13.62 -7.78zM95.38 94l13.62 7.78l-13.62 7.78l-13.62 -7.78z" fill="#27d27a"/><path d="M1.25 10.45l10.68 6.09v11.64l-10.68 -6.09zM28.5 10.45l10.68 6.09v11.64l-10.68 -6.09zM83 10.45l10.68 6.09v11.64l-10.68 -6.09zM110.25 10.45l10.68 6.09v11.64l-10.68 -6.09zM164.75 10.45l10.68 6.09v11.64l-10.68 -6.09zM42.12 33.95l10.68 6.09v11.64l-10.68 -6.09zM69.38 33.95l10.68 6.09v11.64l-10.68 -6.09zM123.88 33.95l10.68 6.09v11.64l-10.68 -6.09zM151.12 33.95l10.68 6.09v11.64l-10.68 -6.09zM28.5 57.45l10.68 6.09v11.64l-10.68 -6.09zM55.75 57.45l10.68 6.09v11.64l-10.68 -6.09zM110.25 57.45l10.68 6.09v11.64l-10.68 -6.09zM137.5 57.45l10.68 6.09v11.64l-10.68 -6.09zM69.38 80.95l10.68 6.09v11.64l-10.68 -6.09zM96.62 80.95l10.68 6.09v11.64l-10.68 -6.09zM123.88 80.95l10.68 6.09v11.64l-10.68 -6.09zM178.38 80.95l10.68 6.09v11.64l-10.68 -6.09zM28.5 104.45l10.68 6.09v11.64l-10.68 -6.09zM55.75 104.45l10.68 6.09v11.64l-10.68 -6.09zM83 104.45l10.68 6.09v11.64l-10.68 -6.09z" fill="#10b25e" stroke="#10b25e" stroke-width="2" stroke-linejoin="round"/><path d="M204.38 0l13.62 7.78l-13.62 7.78l-13.62 -7.78zM27.25 23.5l13.62 7.78l-13.62 7.78l-13.62 -7.78zM27.25 70.5l13.62 7.78l-13.62 7.78l-13.62 -7.78z" fill="#fdc733"/><path d="M192 10.45l10.68 6.09v11.64l-10.68 -6.09zM14.88 33.95l10.68 6.09v11.64l-10.68 -6.09zM14.88 80.95l10.68 6.09v11.64l-10.68 -6.09z" fill="#f3b924" stroke="#f3b924" stroke-width="2" stroke-linejoin="round"/><path d="M68.12 0l13.62 7.78l-13.62 7.78l-13.62 -7.78zM149.88 0l13.62 7.78l-13.62 7.78l-13.62 -7.78zM109 23.5l13.62 7.78l-13.62 7.78l-13.62 -7.78zM190.75 23.5l13.62 7.78l-13.62 7.78l-13.62 -7.78zM218 23.5l13.62 7.78l-13.62 7.78l-13.62 -7.78zM13.62 47l13.62 7.78l-13.62 7.78l-13.62 -7.78zM95.38 47l13.62 7.78l-13.62 7.78l-13.62 -7.78zM177.12 47l13.62 7.78l-13.62 7.78l-13.62 -7.78zM204.38 47l13.62 7.78l-13.62 7.78l-13.62 -7.78zM54.5 70.5l13.62 7.78l-13.62 7.78l-13.62 -7.78zM163.5 70.5l13.62 7.78l-13.62 7.78l-13.62 -7.78zM218 70.5l13.62 7.78l-13.62 7.78l-13.62 -7.78zM13.62 94l13.62 7.78l-13.62 7.78l-13.62 -7.78zM122.62 94l13.62 7.78l-13.62 7.78l-13.62 -7.78z" fill="#f46c81"/><path d="M55.75 10.45l10.68 6.09v11.64l-10.68 -6.09zM137.5 10.45l10.68 6.09v11.64l-10.68 -6.09zM96.62 33.95l10.68 6.09v11.64l-10.68 -6.09zM178.38 33.95l10.68 6.09v11.64l-10.68 -6.09zM205.62 33.95l10.68 6.09v11.64l-10.68 -6.09zM1.25 57.45l10.68 6.09v11.64l-10.68 -6.09zM83 57.45l10.68 6.09v11.64l-10.68 -6.09zM164.75 57.45l10.68 6.09v11.64l-10.68 -6.09zM192 57.45l10.68 6.09v11.64l-10.68 -6.09zM42.12 80.95l10.68 6.09v11.64l-10.68 -6.09zM151.12 80.95l10.68 6.09v11.64l-10.68 -6.09zM205.62 80.95l10.68 6.09v11.64l-10.68 -6.09zM1.25 104.45l10.68 6.09v11.64l-10.68 -6.09zM110.25 104.45l10.68 6.09v11.64l-10.68 -6.09z" fill="#ee2e45" stroke="#ee2e45" stroke-width="2" stroke-linejoin="round"/></svg></div>
<div class="card" style="left:758px;top:434.3px;width:230.3px;height:198.6px"><svg class="git" viewBox="0 0 16 16" width="14.6" height="14.6"><rect x="2.6" y="2.6" width="10.8" height="10.8" rx="1.2" transform="rotate(45 8 8)" fill="#e8512f"/><path d="M6.1 4.4 L9.9 8.2 M8 6.3 V11.4" stroke="#fff" stroke-width="1" fill="none" stroke-linecap="round"/><circle cx="8" cy="6.2" r="1.1" fill="#fff"/><circle cx="10" cy="8.3" r="1.1" fill="#fff"/><circle cx="8" cy="11.3" r="1.1" fill="#fff"/></svg><div class="title">Infrastructure</div><div class="sub"><span class="rp">30 repos</span><span class="bar"></span><b>21d ago</b></div><div class="bdg err"><span>4 ERR</span></div><div class="bdg wrn"><span>15 WRN</span></div><svg class="grid" style="left:23.6px;top:58.6px" width="179.12" height="127.1" viewBox="-1 -1 179.12 127.1"><path d="M13.62 0l13.62 7.78v15.55l-13.62 7.78l-13.62 -7.78v-15.55zM40.88 0l13.62 7.78v15.55l-13.62 7.78l-13.62 -7.78v-15.55zM68.12 0l13.62 7.78v15.55l-13.62 7.78l-13.62 -7.78v-15.55zM95.38 0l13.62 7.78v15.55l-13.62 7.78l-13.62 -7.78v-15.55zM122.62 0l13.62 7.78v15.55l-13.62 7.78l-13.62 -7.78v-15.55zM149.88 0l13.62 7.78v15.55l-13.62 7.78l-13.62 -7.78v-15.55zM54.5 23.5l13.62 7.78v15.55l-13.62 7.78l-13.62 -7.78v-15.55zM136.25 23.5l13.62 7.78v15.55l-13.62 7.78l-13.62 -7.78v-15.55zM163.5 23.5l13.62 7.78v15.55l-13.62 7.78l-13.62 -7.78v-15.55zM13.62 47l13.62 7.78v15.55l-13.62 7.78l-13.62 -7.78v-15.55zM40.88 47l13.62 7.78v15.55l-13.62 7.78l-13.62 -7.78v-15.55zM95.38 47l13.62 7.78v15.55l-13.62 7.78l-13.62 -7.78v-15.55zM122.62 47l13.62 7.78v15.55l-13.62 7.78l-13.62 -7.78v-15.55zM149.88 47l13.62 7.78v15.55l-13.62 7.78l-13.62 -7.78v-15.55zM27.25 70.5l13.62 7.78v15.55l-13.62 7.78l-13.62 -7.78v-15.55zM54.5 70.5l13.62 7.78v15.55l-13.62 7.78l-13.62 -7.78v-15.55zM81.75 70.5l13.62 7.78v15.55l-13.62 7.78l-13.62 -7.78v-15.55zM109 70.5l13.62 7.78v15.55l-13.62 7.78l-13.62 -7.78v-15.55zM136.25 70.5l13.62 7.78v15.55l-13.62 7.78l-13.62 -7.78v-15.55zM163.5 70.5l13.62 7.78v15.55l-13.62 7.78l-13.62 -7.78v-15.55zM13.62 94l13.62 7.78v15.55l-13.62 7.78l-13.62 -7.78v-15.55zM40.88 94l13.62 7.78v15.55l-13.62 7.78l-13.62 -7.78v-15.55zM95.38 94l13.62 7.78v15.55l-13.62 7.78l-13.62 -7.78v-15.55zM122.62 94l13.62 7.78v15.55l-13.62 7.78l-13.62 -7.78v-15.55z" fill="#1ccf73" stroke="#1ccf73" stroke-width="0.5"/><path d="M27.25 23.5l13.62 7.78v15.55l-13.62 7.78l-13.62 -7.78v-15.55zM109 23.5l13.62 7.78v15.55l-13.62 7.78l-13.62 -7.78v-15.55zM68.12 47l13.62 7.78v15.55l-13.62 7.78l-13.62 -7.78v-15.55z" fill="#fcc530" stroke="#fcc530" stroke-width="0.5"/><path d="M81.75 23.5l13.62 7.78v15.55l-13.62 7.78l-13.62 -7.78v-15.55zM68.12 94l13.62 7.78v15.55l-13.62 7.78l-13.62 -7.78v-15.55zM149.88 94l13.62 7.78v15.55l-13.62 7.78l-13.62 -7.78v-15.55z" fill="#f46078" stroke="#f46078" stroke-width="0.5"/><path d="M13.62 0l13.62 7.78l-13.62 7.78l-13.62 -7.78zM40.88 0l13.62 7.78l-13.62 7.78l-13.62 -7.78zM68.12 0l13.62 7.78l-13.62 7.78l-13.62 -7.78zM95.38 0l13.62 7.78l-13.62 7.78l-13.62 -7.78zM122.62 0l13.62 7.78l-13.62 7.78l-13.62 -7.78zM149.88 0l13.62 7.78l-13.62 7.78l-13.62 -7.78zM54.5 23.5l13.62 7.78l-13.62 7.78l-13.62 -7.78zM136.25 23.5l13.62 7.78l-13.62 7.78l-13.62 -7.78zM163.5 23.5l13.62 7.78l-13.62 7.78l-13.62 -7.78zM13.62 47l13.62 7.78l-13.62 7.78l-13.62 -7.78zM40.88 47l13.62 7.78l-13.62 7.78l-13.62 -7.78zM95.38 47l13.62 7.78l-13.62 7.78l-13.62 -7.78zM122.62 47l13.62 7.78l-13.62 7.78l-13.62 -7.78zM149.88 47l13.62 7.78l-13.62 7.78l-13.62 -7.78zM27.25 70.5l13.62 7.78l-13.62 7.78l-13.62 -7.78zM54.5 70.5l13.62 7.78l-13.62 7.78l-13.62 -7.78zM81.75 70.5l13.62 7.78l-13.62 7.78l-13.62 -7.78zM109 70.5l13.62 7.78l-13.62 7.78l-13.62 -7.78zM136.25 70.5l13.62 7.78l-13.62 7.78l-13.62 -7.78zM163.5 70.5l13.62 7.78l-13.62 7.78l-13.62 -7.78zM13.62 94l13.62 7.78l-13.62 7.78l-13.62 -7.78zM40.88 94l13.62 7.78l-13.62 7.78l-13.62 -7.78zM95.38 94l13.62 7.78l-13.62 7.78l-13.62 -7.78zM122.62 94l13.62 7.78l-13.62 7.78l-13.62 -7.78z" fill="#27d27a"/><path d="M1.25 10.45l10.68 6.09v11.64l-10.68 -6.09zM28.5 10.45l10.68 6.09v11.64l-10.68 -6.09zM55.75 10.45l10.68 6.09v11.64l-10.68 -6.09zM83 10.45l10.68 6.09v11.64l-10.68 -6.09zM110.25 10.45l10.68 6.09v11.64l-10.68 -6.09zM137.5 10.45l10.68 6.09v11.64l-10.68 -6.09zM42.12 33.95l10.68 6.09v11.64l-10.68 -6.09zM123.88 33.95l10.68 6.09v11.64l-10.68 -6.09zM151.12 33.95l10.68 6.09v11.64l-10.68 -6.09zM1.25 57.45l10.68 6.09v11.64l-10.68 -6.09zM28.5 57.45l10.68 6.09v11.64l-10.68 -6.09zM83 57.45l10.68 6.09v11.64l-10.68 -6.09zM110.25 57.45l10.68 6.09v11.64l-10.68 -6.09zM137.5 57.45l10.68 6.09v11.64l-10.68 -6.09zM14.88 80.95l10.68 6.09v11.64l-10.68 -6.09zM42.12 80.95l10.68 6.09v11.64l-10.68 -6.09zM69.38 80.95l10.68 6.09v11.64l-10.68 -6.09zM96.62 80.95l10.68 6.09v11.64l-10.68 -6.09zM123.88 80.95l10.68 6.09v11.64l-10.68 -6.09zM151.12 80.95l10.68 6.09v11.64l-10.68 -6.09zM1.25 104.45l10.68 6.09v11.64l-10.68 -6.09zM28.5 104.45l10.68 6.09v11.64l-10.68 -6.09zM83 104.45l10.68 6.09v11.64l-10.68 -6.09zM110.25 104.45l10.68 6.09v11.64l-10.68 -6.09z" fill="#10b25e" stroke="#10b25e" stroke-width="2" stroke-linejoin="round"/><path d="M27.25 23.5l13.62 7.78l-13.62 7.78l-13.62 -7.78zM109 23.5l13.62 7.78l-13.62 7.78l-13.62 -7.78zM68.12 47l13.62 7.78l-13.62 7.78l-13.62 -7.78z" fill="#fdc733"/><path d="M14.88 33.95l10.68 6.09v11.64l-10.68 -6.09zM96.62 33.95l10.68 6.09v11.64l-10.68 -6.09zM55.75 57.45l10.68 6.09v11.64l-10.68 -6.09z" fill="#f3b924" stroke="#f3b924" stroke-width="2" stroke-linejoin="round"/><path d="M81.75 23.5l13.62 7.78l-13.62 7.78l-13.62 -7.78zM68.12 94l13.62 7.78l-13.62 7.78l-13.62 -7.78zM149.88 94l13.62 7.78l-13.62 7.78l-13.62 -7.78z" fill="#f46c81"/><path d="M69.38 33.95l10.68 6.09v11.64l-10.68 -6.09zM55.75 104.45l10.68 6.09v11.64l-10.68 -6.09zM137.5 104.45l10.68 6.09v11.64l-10.68 -6.09z" fill="#ee2e45" stroke="#ee2e45" stroke-width="2" stroke-linejoin="round"/></svg></div>
<div class="card m" style="left:1015px;top:434.3px;width:107px;height:105.5px"><svg class="git" viewBox="0 0 16 16" width="14.6" height="14.6"><rect x="2.6" y="2.6" width="10.8" height="10.8" rx="1.2" transform="rotate(45 8 8)" fill="#e8512f"/><path d="M6.1 4.4 L9.9 8.2 M8 6.3 V11.4" stroke="#fff" stroke-width="1" fill="none" stroke-linecap="round"/><circle cx="8" cy="6.2" r="1.1" fill="#fff"/><circle cx="10" cy="8.3" r="1.1" fill="#fff"/><circle cx="8" cy="11.3" r="1.1" fill="#fff"/></svg><div class="title">Monitoring</div><div class="sub"><span class="rp">2 repos</span><span class="bar"></span><b>6d ago</b></div><svg class="grid" style="left:11.5px;top:58.6px" width="56.5" height="33.1" viewBox="-1 -1 56.5 33.1"><path d="M40.88 0l13.62 7.78v15.55l-13.62 7.78l-13.62 -7.78v-15.55z" fill="#1ccf73" stroke="#1ccf73" stroke-width="0.5"/><path d="M13.62 0l13.62 7.78v15.55l-13.62 7.78l-13.62 -7.78v-15.55z" fill="#1769de" stroke="#1769de" stroke-width="0.5"/><path d="M40.88 0l13.62 7.78l-13.62 7.78l-13.62 -7.78z" fill="#27d27a"/><path d="M28.5 10.45l10.68 6.09v11.64l-10.68 -6.09z" fill="#10b25e" stroke="#10b25e" stroke-width="2" stroke-linejoin="round"/><path d="M13.62 0l13.62 7.78l-13.62 7.78l-13.62 -7.78z" fill="#2f82ec"/><path d="M1.25 10.45l10.68 6.09v11.64l-10.68 -6.09z" fill="#1a6de2" stroke="#1a6de2" stroke-width="2" stroke-linejoin="round"/></svg></div>
<div class="card" style="left:77px;top:707.3px;width:150px;height:80px"><svg class="git" viewBox="0 0 16 16" width="14.6" height="14.6"><rect x="2.6" y="2.6" width="10.8" height="10.8" rx="1.2" transform="rotate(45 8 8)" fill="#e8512f"/><path d="M6.1 4.4 L9.9 8.2 M8 6.3 V11.4" stroke="#fff" stroke-width="1" fill="none" stroke-linecap="round"/><circle cx="8" cy="6.2" r="1.1" fill="#fff"/><circle cx="10" cy="8.3" r="1.1" fill="#fff"/><circle cx="8" cy="11.3" r="1.1" fill="#fff"/></svg><div class="title">Security</div><div class="sub"><span class="rp">2 repos</span><span class="bar"></span><b>21d ago</b></div><div class="bdg err"><span>9 ERR</span></div><div class="bdg wrn"><span>5 WRN</span></div></div>
<div class="card" style="left:254px;top:707.3px;width:108px;height:80px"><svg class="git" viewBox="0 0 16 16" width="14.6" height="14.6"><rect x="2.6" y="2.6" width="10.8" height="10.8" rx="1.2" transform="rotate(45 8 8)" fill="#e8512f"/><path d="M6.1 4.4 L9.9 8.2 M8 6.3 V11.4" stroke="#fff" stroke-width="1" fill="none" stroke-linecap="round"/><circle cx="8" cy="6.2" r="1.1" fill="#fff"/><circle cx="10" cy="8.3" r="1.1" fill="#fff"/><circle cx="8" cy="11.3" r="1.1" fill="#fff"/></svg><div class="title" style="letter-spacing:-0.33px">Billing POC</div><div class="sub"><span class="rp">2 repos</span><span class="bar"></span><b>6d ago</b></div></div>
<div class="card" style="left:388px;top:707.3px;width:104px;height:80px"><svg class="git" viewBox="0 0 16 16" width="14.6" height="14.6"><rect x="2.6" y="2.6" width="10.8" height="10.8" rx="1.2" transform="rotate(45 8 8)" fill="#e8512f"/><path d="M6.1 4.4 L9.9 8.2 M8 6.3 V11.4" stroke="#fff" stroke-width="1" fill="none" stroke-linecap="round"/><circle cx="8" cy="6.2" r="1.1" fill="#fff"/><circle cx="10" cy="8.3" r="1.1" fill="#fff"/><circle cx="8" cy="11.3" r="1.1" fill="#fff"/></svg><div class="title">Templates</div><div class="sub"><span class="rp">1 repos</span><span class="bar"></span><b>5d ago</b></div></div>
<div class="card" style="left:520px;top:707.3px;width:110px;height:80px"><svg class="git" viewBox="0 0 16 16" width="14.6" height="14.6"><rect x="2.6" y="2.6" width="10.8" height="10.8" rx="1.2" transform="rotate(45 8 8)" fill="#e8512f"/><path d="M6.1 4.4 L9.9 8.2 M8 6.3 V11.4" stroke="#fff" stroke-width="1" fill="none" stroke-linecap="round"/><circle cx="8" cy="6.2" r="1.1" fill="#fff"/><circle cx="10" cy="8.3" r="1.1" fill="#fff"/><circle cx="8" cy="11.3" r="1.1" fill="#fff"/></svg><div class="title" style="letter-spacing:-0.4px">EVH 5150</div><div class="sub"><span class="rp">1 repos</span><span class="bar"></span><b>10d ago</b></div></div>
<div class="card" style="left:658px;top:707.3px;width:104px;height:80px"><svg class="git" viewBox="0 0 16 16" width="14.6" height="14.6"><rect x="2.6" y="2.6" width="10.8" height="10.8" rx="1.2" transform="rotate(45 8 8)" fill="#e8512f"/><path d="M6.1 4.4 L9.9 8.2 M8 6.3 V11.4" stroke="#fff" stroke-width="1" fill="none" stroke-linecap="round"/><circle cx="8" cy="6.2" r="1.1" fill="#fff"/><circle cx="10" cy="8.3" r="1.1" fill="#fff"/><circle cx="8" cy="11.3" r="1.1" fill="#fff"/></svg><div class="title" style="letter-spacing:-0.3px">Open DX</div><div class="sub"><span class="rp">1 repos</span><span class="bar"></span><b>6d ago</b></div></div>

<div id="side">
<div class="act"></div>
<svg id="logo" style="left:0;top:0" width="50" height="50" viewBox="0 0 50 50">
<path d="M12.300 18.600C16.500 18.400 20 16.800 23.500 13.500C27.500 16.500 32 18 36.300 19C37 28.500 32.500 36.500 24 40.600C15.500 36.500 11.600 28.500 12.300 18.600Z" fill="#f6eeff"/>
<path d="M23.500 10.200L26 13.300L30.500 14.500L34.500 18.500L36.500 22.500L36 27L30 24L25 22.500L20.500 24L18 23.500L20 19.500L19.500 16L21.500 13.500Z" fill="#ffffff"/>
<path d="M15 21C17 19.600 19 19.700 20 20.500L18 23.600C21 24.500 25 23 28 24.500C30 27 29 31 25.500 32.200C21 33.200 16.500 30.500 15.300 26Z" fill="#4a14a4"/>
<path d="M30.800 24.500C32.300 25.500 33.300 27 33.300 28.500C32.300 33 28.500 37 24 38.800C21 37.500 18.500 35 17.300 32C19.500 33.300 22.500 33.800 25.500 33C29 31.800 31.300 28.500 30.800 24.500Z" fill="#d3c8e8"/>
</svg>
<svg style="left:14px;top:83px" width="21" height="20" viewBox="0 0 21 20" fill="none" stroke="#e4d3ff" stroke-width="1.500" stroke-linejoin="round"><path d="M5.800 1.200L10 3.500V8L5.800 10.300L1.600 8V3.500Z"/><path d="M15.200 1.200L19.400 3.500V8L15.200 10.300L11 8V3.500Z"/><path d="M10.500 9.200L14.700 11.500V16L10.500 18.300L6.300 16V11.500Z"/><path d="M3.600 4.500L5.800 5.900L8 4.500M5.800 5.900V8.500M13 4.500L15.200 5.900L17.400 4.500M15.200 5.900V8.500M8.300 12.500L10.500 13.900L12.700 12.500M10.500 13.900V16.500" stroke-width="1.200"/></svg>
<svg style="left:14px;top:122px" width="21" height="20" viewBox="0 0 21 20" fill="none" stroke="#dcc4ff" stroke-width="1.300" stroke-linecap="round" stroke-linejoin="round"><path d="M15.500 2.100H6.200L1.400 10.100L6.200 18.200H15.500"/><path d="M7 4.900H11.500M4.500 7.500H18.800M3 10H16.800M5.600 12.800H9.500M8.200 15.500H14.200"/></svg>
<svg style="left:14.800px;top:163px" width="19.500" height="17.600" viewBox="0 0 21 19" fill="none" stroke="#dcc4ff" stroke-width="1.500" stroke-linejoin="round"><path d="M10.500 2L18.800 6L10.500 10L2.200 6Z"/><path d="M2.200 9.500L10.500 13.500L18.800 9.500"/><path d="M2.200 13L10.500 17L18.800 13"/></svg>
<svg style="left:15.500px;top:201.800px" width="17.700" height="19.600" viewBox="0 0 19 21" fill="none" stroke="#dcc4ff" stroke-width="1.500" stroke-linejoin="round" stroke-linecap="round"><path d="M6.300 8L2.500 9.800V15.800L9.500 19.300L16.500 15.800V9.800L12.700 8"/><path d="M2.500 9.800L9.500 13.300L16.500 9.800M9.500 13.300V19"/><path d="M9.500 1.800V10M6.400 4.700H12.600"/></svg>
<svg style="left:14px;top:241px" width="21" height="19" viewBox="0 0 21 19" fill="none" stroke="#dcc4ff" stroke-width="1.400" stroke-linejoin="round" stroke-linecap="round">
<path d="M1.700 8.300C1.700 6.500 6.300 6.500 6.300 8.300V15.800C6.300 17.600 1.700 17.600 1.700 15.800Z"/><path d="M4 9.800V16.500"/>
<path d="M8.200 3.300C8.200 1.300 13.600 1.300 13.600 3.300V12.800L8.200 15.600Z"/><path d="M10.900 4.500V13.800"/>
<path d="M13.600 6.500L18.800 5.200V10.700L6.300 16.300"/><path d="M16.200 7.500V10.800"/>
</svg>
<svg style="left:16.500px;top:691.800px" width="14" height="14" viewBox="0 0 15 15" fill="none" stroke="#b79fd2" stroke-width="1.400" stroke-linejoin="round"><path d="M7.500 1.200L9.300 2.900L11.800 3L11.900 5.500L13.600 7.400L11.900 9.300L11.800 11.800L9.300 11.900L7.500 13.600L5.700 11.900L3.200 11.800L3.100 9.300L1.400 7.400L3.100 5.500L3.200 3L5.700 2.900Z"/><circle cx="7.500" cy="7.400" r="1.700"/></svg>
<svg style="left:17px;top:718px" width="14" height="12" viewBox="0 0 14 12" fill="none" stroke="#b79fd2" stroke-width="1.300" stroke-linejoin="round">
<path d="M7 2.200C5.500 1.200 3 1 1 1.300V9.800C3 9.500 5.500 9.700 7 10.700C8.500 9.700 11 9.500 13 9.800V1.300C11 1 8.500 1.200 7 2.200ZM7 2.200V10.700"/>
</svg>
</div>
<div id="fade"></div>
</div>
</body>
</html>
